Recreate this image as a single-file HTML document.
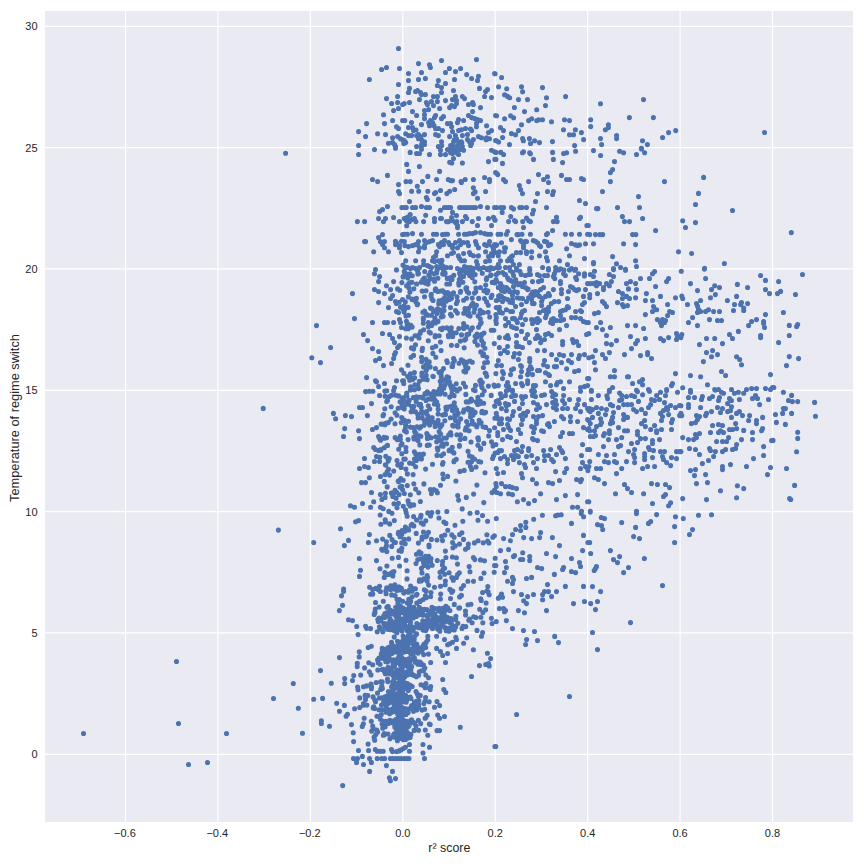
<!DOCTYPE html>
<html><head><meta charset="utf-8"><title>scatter</title>
<style>
html,body{margin:0;padding:0;background:#fff;}
body{width:864px;height:864px;overflow:hidden;font-family:"Liberation Sans",sans-serif;}
svg{display:block}
text{font-family:"Liberation Sans",sans-serif;fill:#262626}
</style></head><body>
<svg width="864" height="864" viewBox="0 0 864 864">
<rect x="0" y="0" width="864" height="864" fill="#ffffff"/>
<rect x="45" y="11" width="808" height="811" fill="#eaeaf2"/>
<g stroke="#ffffff" stroke-width="1.2" fill="none"><line x1="125.52" y1="11" x2="125.52" y2="822"/><line x1="217.94" y1="11" x2="217.94" y2="822"/><line x1="310.37" y1="11" x2="310.37" y2="822"/><line x1="402.80" y1="11" x2="402.80" y2="822"/><line x1="495.23" y1="11" x2="495.23" y2="822"/><line x1="587.66" y1="11" x2="587.66" y2="822"/><line x1="680.08" y1="11" x2="680.08" y2="822"/><line x1="772.51" y1="11" x2="772.51" y2="822"/><line x1="45" y1="754.30" x2="853" y2="754.30"/><line x1="45" y1="632.96" x2="853" y2="632.96"/><line x1="45" y1="511.63" x2="853" y2="511.63"/><line x1="45" y1="390.29" x2="853" y2="390.29"/><line x1="45" y1="268.96" x2="853" y2="268.96"/><line x1="45" y1="147.62" x2="853" y2="147.62"/><line x1="45" y1="26.29" x2="853" y2="26.29"/></g>
<path d="M83.5 733.5h0M176.5 661.5h0M178.5 723.5h0M226.5 733.5h0M188.5 764.5h0M207.5 762.5h0M273.5 698.5h0M293.3 683.5h0M298.3 708.3h0M302.5 733.3h0M285.6 153.3h0M263.2 408.4h0M278.4 530.1h0M339.5 657.6h0M320.5 670.6h0M344.7 678.6h0M344.7 683.6h0M352.5 680.5h0M331.3 683.3h0M313.7 699.2h0M322.6 698.4h0M336.7 703.3h0M344.4 705.4h0M354.6 708.7h0M339.5 711.2h0M347.5 714.3h0M346.1 716.2h0M321.4 720.7h0M321.4 723.5h0M329.5 726.3h0M351.5 724.6h0M353.2 732.7h0M353.6 741.6h0M436.6 636.3h0M444.5 639.5h0M455.8 637.4h0M456.5 639.5h0M452.5 642.3h0M449.7 643.7h0M447.6 644.7h0M466.7 637.7h0M463.6 643.3h0M481.5 636.3h0M456.5 648.4h0M436.6 648.4h0M440.5 651.5h0M442.7 655.5h0M447.6 653.6h0M473.4 649.7h0M487.4 653.3h0M490.6 658.6h0M488.5 663.5h0M485.7 664.5h0M489.2 665.9h0M479.5 665.6h0M445.5 662.5h0M430.7 662.5h0M471.5 676.5h0M442.7 679.5h0M443.8 689.6h0M445.8 692.5h0M439.6 705.6h0M434.5 707.3h0M437.7 715.0h0M439.6 718.3h0M444.5 716.5h0M460.3 727.3h0M437.0 730.6h0M439.6 730.6h0M427.8 735.2h0M429.5 747.2h0M494.9 746.5h0M313.7 542.5h0M340.5 528.7h0M355.6 521.8h0M358.6 520.6h0M344.4 545.6h0M348.5 540.4h0M369.4 534.5h0M368.4 542.5h0M376.5 540.7h0M359.3 558.5h0M376.5 560.6h0M360.5 570.3h0M359.5 576.4h0M343.6 589.1h0M343.6 591.2h0M341.5 595.7h0M342.6 605.3h0M339.4 610.6h0M348.5 619.7h0M352.5 620.6h0M356.7 626.5h0M365.6 626.2h0M366.6 628.2h0M370.6 628.6h0M372.7 589.5h0M375.8 588.4h0M379.6 586.3h0M370.6 594.3h0M380.4 591.5h0M375.5 602.5h0M496.3 518.5h0M542.4 515.3h0M533.7 519.2h0M555.6 515.7h0M557.9 515.0h0M561.2 514.7h0M581.2 513.6h0M583.6 516.7h0M571.5 523.4h0M525.8 522.3h0M520.6 525.6h0M525.8 527.4h0M515.6 529.5h0M520.6 530.5h0M512.5 534.5h0M540.6 532.6h0M503.6 538.6h0M510.4 540.7h0M523.7 537.6h0M531.6 538.6h0M539.6 537.6h0M552.4 537.6h0M583.5 535.4h0M587.9 542.5h0M559.5 545.6h0M500.5 550.6h0M508.6 549.6h0M522.7 552.7h0M514.6 555.5h0M513.5 556.6h0M529.7 556.6h0M546.5 553.5h0M555.6 556.6h0M582.6 550.6h0M571.5 558.5h0M520.6 559.5h0M522.7 559.5h0M529.7 560.6h0M505.5 561.6h0M579.5 562.6h0M495.9 565.5h0M506.4 567.5h0M537.5 567.5h0M541.7 568.6h0M563.6 567.5h0M562.6 569.5h0M580.5 566.5h0M504.5 572.6h0M571.5 571.5h0M575.6 572.6h0M554.4 574.4h0M512.5 577.4h0M513.5 579.6h0M531.6 577.4h0M526.5 578.5h0M507.6 581.3h0M512.5 583.5h0M547.5 584.6h0M565.4 586.4h0M583.5 586.4h0M513.5 591.6h0M544.5 591.6h0M548.5 591.6h0M556.5 591.6h0M501.5 594.0h0M500.5 596.2h0M502.5 597.3h0M498.3 598.3h0M521.5 594.5h0M533.5 594.5h0M527.6 596.6h0M542.6 594.5h0M551.6 596.6h0M542.6 599.7h0M523.7 600.7h0M526.5 603.6h0M584.5 601.5h0M573.5 603.6h0M499.4 608.6h0M503.6 608.6h0M505.5 610.6h0M504.5 611.7h0M518.4 610.6h0M524.5 612.7h0M546.5 610.6h0M496.3 621.6h0M506.4 620.6h0M512.5 628.6h0M523.5 630.5h0M534.5 631.5h0M590.3 512.1h0M636.5 513.6h0M656.6 514.6h0M675.5 516.7h0M601.3 517.5h0M604.5 518.5h0M621.7 522.5h0M597.5 524.6h0M601.5 525.6h0M602.7 529.5h0M635.6 527.4h0M650.7 521.5h0M648.5 523.4h0M674.6 526.6h0M633.6 536.6h0M639.5 538.6h0M589.7 542.5h0M674.6 542.5h0M610.4 550.6h0M590.7 553.5h0M619.6 556.6h0M613.5 559.6h0M617.5 562.6h0M644.4 558.5h0M596.5 566.5h0M595.5 568.6h0M594.2 570.5h0M628.5 567.5h0M623.6 572.6h0M592.5 586.6h0M600.6 591.6h0M662.5 585.6h0M597.5 601.5h0M590.7 603.6h0M595.5 609.6h0M630.5 622.6h0M592.5 632.5h0M683.3 518.5h0M698.5 515.3h0M711.5 514.7h0M692.5 529.6h0M689.5 534.5h0M526.6 639.6h0M525.6 644.5h0M537.5 640.6h0M554.7 636.4h0M558.5 642.6h0M597.5 649.6h0M569.5 696.5h0M516.6 714.5h0M495.8 746.6h0M358.5 750.5h0M368.6 750.5h0M375.3 749.5h0M377.2 751.3h0M380.3 751.3h0M383.2 751.3h0M391.5 749.5h0M392.5 751.6h0M396.6 751.6h0M399.0 750.9h0M401.1 749.9h0M403.3 748.5h0M405.4 747.3h0M409.5 744.5h0M409.5 751.3h0M429.6 747.3h0M353.5 758.5h0M357.5 758.5h0M362.4 756.4h0M369.6 758.5h0M377.2 758.5h0M381.8 758.5h0M384.6 758.5h0M390.4 758.5h0M392.5 758.5h0M395.4 758.5h0M398.3 758.5h0M401.1 758.5h0M404.0 758.5h0M406.9 758.5h0M409.0 758.5h0M424.5 758.5h0M356.5 762.4h0M363.5 764.5h0M371.4 762.4h0M386.4 765.6h0M369.6 771.4h0M392.5 771.4h0M389.4 777.8h0M390.4 780.8h0M395.5 778.6h0M342.7 785.6h0M365.6 391.6h0M369.4 391.3h0M372.9 391.3h0M379.6 395.5h0M371.5 403.6h0M359.5 407.5h0M362.5 407.5h0M333.4 413.4h0M335.6 418.7h0M345.4 415.6h0M351.5 416.6h0M367.4 415.6h0M344.7 428.6h0M343.5 436.5h0M358.6 430.7h0M359.5 438.6h0M372.5 429.5h0M376.5 427.6h0M378.6 436.5h0M379.6 438.6h0M373.7 447.5h0M375.5 449.5h0M378.6 450.6h0M380.7 449.5h0M364.5 458.5h0M376.5 456.5h0M374.5 461.5h0M379.6 461.5h0M359.5 468.5h0M364.5 466.5h0M368.4 467.5h0M369.4 477.7h0M361.5 482.6h0M365.5 482.6h0M371.5 492.5h0M380.4 494.6h0M373.7 501.7h0M362.5 503.5h0M350.5 505.7h0M354.5 507.3h0M370.6 507.3h0M380.4 507.3h0M802.5 274.5h0M778.6 281.5h0M780.6 291.4h0M777.5 293.6h0M795.5 294.5h0M783.4 312.5h0M797.7 324.5h0M796.6 326.5h0M789.3 325.4h0M789.3 335.5h0M778.6 342.5h0M789.3 356.6h0M798.6 358.6h0M786.5 365.6h0M773.8 387.5h0M783.4 392.3h0M791.6 395.4h0M788.5 400.5h0M792.4 401.6h0M797.7 401.6h0M814.6 402.4h0M783.4 408.6h0M785.4 408.6h0M775.5 414.5h0M782.6 413.4h0M791.6 413.4h0M815.5 416.2h0M776.4 422.4h0M785.4 424.4h0M797.7 432.3h0M797.7 438.4h0M773.0 440.4h0M796.6 451.7h0M786.5 468.5h0M794.6 485.4h0M789.6 498.6h0M790.7 499.5h0M375.5 269.6h0M396.5 269.9h0M374.5 273.7h0M379.6 276.5h0M378.6 281.6h0M393.6 281.6h0M401.9 282.6h0M386.5 285.7h0M374.5 289.6h0M378.6 291.5h0M390.6 289.6h0M397.6 288.9h0M399.8 290.3h0M384.5 293.6h0M352.5 293.6h0M392.6 295.6h0M390.6 298.5h0M378.6 302.6h0M395.5 301.6h0M399.1 302.3h0M396.5 303.5h0M402.6 299.5h0M388.5 307.6h0M400.5 307.3h0M396.5 311.5h0M398.6 312.5h0M354.5 318.6h0M372.5 322.5h0M384.5 322.5h0M387.5 322.5h0M393.6 322.5h0M399.5 319.6h0M400.5 322.5h0M316.5 325.6h0M401.5 327.5h0M363.5 334.5h0M382.5 333.5h0M389.6 334.5h0M399.5 336.6h0M392.6 338.5h0M367.6 340.6h0M394.5 342.6h0M399.5 345.5h0M397.6 347.5h0M330.6 347.5h0M372.5 348.6h0M378.6 351.5h0M395.5 352.6h0M394.5 354.6h0M311.8 357.7h0M393.6 358.5h0M379.6 358.5h0M375.5 360.6h0M320.5 362.6h0M391.6 363.5h0M383.5 365.6h0M401.5 369.7h0M366.6 377.6h0M375.5 380.7h0M376.5 381.7h0M396.5 380.7h0M384.5 383.5h0M402.6 380.7h0M378.6 386.6h0M394.5 387.5h0M358.6 154.5h0M374.5 149.6h0M384.5 151.3h0M395.5 148.2h0M387.5 175.4h0M372.5 179.5h0M377.6 181.6h0M398.5 184.6h0M398.5 191.5h0M399.5 193.6h0M387.5 206.5h0M382.5 209.6h0M379.6 211.6h0M401.9 207.5h0M378.6 218.5h0M385.5 218.5h0M383.5 221.6h0M393.6 217.5h0M399.5 221.6h0M357.4 221.6h0M364.6 221.6h0M382.5 234.6h0M378.6 237.5h0M402.6 234.6h0M380.4 241.6h0M384.5 241.6h0M382.5 244.6h0M384.5 247.7h0M364.6 241.6h0M365.6 241.6h0M395.5 241.3h0M396.5 242.8h0M395.5 244.6h0M399.5 245.6h0M401.5 241.3h0M399.5 247.7h0M373.7 251.7h0M388.5 251.7h0M401.5 252.6h0M593.5 150.6h0M600.6 155.5h0M619.6 151.3h0M623.6 152.7h0M641.5 148.9h0M644.6 152.7h0M636.5 154.5h0M614.5 161.6h0M612.6 169.6h0M610.4 172.6h0M610.4 181.6h0M664.5 181.6h0M602.5 191.5h0M638.5 196.6h0M596.5 208.6h0M597.9 208.6h0M617.5 207.5h0M639.5 207.5h0M622.4 216.6h0M624.5 221.6h0M629.5 221.6h0M642.6 218.5h0M588.3 225.5h0M655.6 230.5h0M589.7 234.6h0M595.5 234.6h0M599.9 234.6h0M602.7 234.6h0M632.6 234.6h0M635.8 234.6h0M593.5 243.7h0M623.6 243.7h0M635.6 244.6h0M678.5 251.7h0M612.6 256.6h0M635.6 260.7h0M593.5 262.5h0M593.5 263.7h0M616.5 263.7h0M636.5 266.5h0M613.5 268.5h0M620.6 267.5h0M625.5 269.3h0M764.5 132.5h0M703.6 177.4h0M698.5 193.4h0M695.5 204.5h0M732.5 210.5h0M682.7 220.7h0M695.5 222.6h0M685.5 227.5h0M791.3 232.6h0M691.6 253.5h0M724.4 263.5h0M704.6 268.4h0M398.5 48.5h0M381.6 69.5h0M386.5 67.5h0M399.5 68.5h0M369.4 79.5h0M398.5 84.5h0M397.6 96.5h0M386.5 98.6h0M391.6 103.5h0M397.6 102.5h0M402.6 104.5h0M398.5 108.5h0M393.6 110.6h0M383.5 114.7h0M392.6 120.5h0M402.6 120.5h0M366.6 123.6h0M384.5 123.6h0M396.5 126.7h0M398.5 128.5h0M358.6 131.6h0M377.6 133.7h0M385.5 134.6h0M365.6 136.6h0M392.6 137.7h0M397.6 136.6h0M400.5 138.7h0M402.6 139.8h0M388.5 143.3h0M392.6 142.6h0M394.5 144.5h0M395.5 146.5h0M358.6 145.5h0M495.1 73.7h0M501.6 77.5h0M498.6 86.7h0M506.7 88.7h0M521.5 86.7h0M522.6 91.7h0M542.5 87.6h0M504.6 94.7h0M507.6 96.4h0M509.7 97.7h0M518.5 99.6h0M527.5 99.6h0M546.5 97.7h0M565.6 96.6h0M545.5 105.6h0M514.4 107.5h0M536.7 109.7h0M524.5 111.6h0M496.6 115.7h0M510.6 115.7h0M513.6 117.8h0M504.6 118.7h0M528.6 120.6h0M531.6 118.7h0M536.7 120.6h0M538.6 119.7h0M542.5 119.7h0M551.5 121.7h0M564.5 119.7h0M569.5 120.6h0M521.5 124.7h0M500.5 127.6h0M503.5 130.6h0M518.5 130.6h0M511.4 133.6h0M515.5 134.7h0M502.6 137.5h0M522.6 138.6h0M523.4 140.7h0M529.4 138.6h0M534.6 140.7h0M530.5 143.5h0M539.5 142.6h0M552.5 141.6h0M509.5 144.6h0M496.6 140.7h0M498.6 142.0h0M563.5 129.8h0M575.4 129.8h0M569.5 134.7h0M573.5 134.7h0M581.4 132.6h0M583.6 139.6h0M574.6 145.6h0M600.5 103.7h0M643.5 99.6h0M590.7 119.7h0M629.4 117.6h0M653.4 117.6h0M590.7 126.6h0M608.4 124.7h0M608.4 127.6h0M605.4 129.8h0M616.6 135.6h0M616.6 138.6h0M600.5 138.6h0M601.6 144.6h0M642.5 140.7h0M647.4 144.6h0M641.4 148.2h0M662.6 137.5h0M668.6 132.6h0M675.7 130.6h0M681.3 271.3h0M704.4 269.1h0M705.6 278.5h0M760.6 275.5h0M765.5 280.4h0M690.5 283.6h0M737.4 284.4h0M714.7 285.7h0M719.5 287.5h0M747.6 287.5h0M711.5 289.6h0M697.5 290.6h0M765.5 289.6h0M769.5 293.6h0M715.4 294.6h0M681.8 296.0h0M682.7 298.5h0M736.6 296.4h0M710.5 297.7h0M727.4 300.5h0M700.6 300.5h0M696.5 303.5h0M687.5 304.5h0M697.5 306.1h0M734.5 304.5h0M741.5 302.6h0M740.6 304.5h0M747.6 303.5h0M743.7 308.0h0M743.7 310.5h0M733.5 310.5h0M698.5 309.4h0M697.5 312.5h0M700.6 311.5h0M705.6 311.5h0M708.5 309.7h0M713.6 311.5h0M719.5 311.5h0M765.5 314.6h0M692.6 317.6h0M709.5 319.6h0M717.5 320.5h0M721.5 320.5h0M756.5 319.6h0M751.6 321.5h0M763.6 321.5h0M763.6 323.5h0M688.5 322.5h0M697.5 325.6h0M748.6 325.6h0M764.5 327.5h0M738.4 331.4h0M681.8 334.5h0M680.9 337.6h0M729.5 334.5h0M732.5 338.5h0M760.6 335.5h0M760.6 337.6h0M706.5 338.5h0M714.7 338.5h0M722.5 343.6h0M699.5 344.6h0M712.6 350.6h0M706.5 352.6h0M717.5 354.6h0M711.5 356.7h0M736.6 356.7h0M739.7 359.5h0M703.4 361.6h0M741.5 364.7h0M721.5 371.5h0M725.6 375.5h0M690.5 375.5h0M700.6 376.7h0M770.5 374.6h0M707.5 384.7h0M682.7 387.8h0M690.5 390.3h0M714.7 389.5h0M718.5 389.5h0M731.5 389.5h0M746.5 389.5h0M751.6 388.5h0M756.5 388.5h0M765.5 388.5h0M770.5 389.5h0M772.6 387.5h0M594.5 271.3h0M590.3 274.5h0M593.5 276.5h0M613.5 269.6h0M625.5 270.3h0M609.4 274.5h0M613.5 276.5h0M654.6 271.6h0M652.5 273.7h0M640.5 278.5h0M649.5 278.5h0M668.6 278.5h0M666.6 281.6h0M590.3 283.6h0M593.5 283.6h0M596.5 282.6h0M599.6 283.6h0M596.5 285.7h0M606.5 283.6h0M611.4 281.6h0M609.4 285.7h0M603.5 287.5h0M603.5 289.6h0M626.5 283.6h0M630.5 281.6h0M635.6 283.6h0M628.5 288.9h0M636.5 289.6h0M655.6 286.5h0M618.5 291.5h0M622.4 293.6h0M597.5 293.6h0M589.7 294.6h0M589.7 297.7h0M646.4 293.6h0M660.5 296.4h0M675.5 297.7h0M626.5 296.4h0M629.5 298.5h0M622.4 298.5h0M635.6 297.7h0M645.4 300.5h0M652.5 300.5h0M602.5 301.6h0M617.5 302.6h0M604.5 303.5h0M606.5 306.6h0M622.4 304.5h0M623.6 306.6h0M627.5 305.6h0M667.6 304.5h0M653.5 306.6h0M656.6 309.7h0M652.5 311.5h0M669.6 311.5h0M672.5 312.5h0M645.4 314.6h0M667.6 315.5h0M594.5 313.6h0M598.4 312.5h0M657.4 319.6h0M662.5 319.6h0M665.5 320.5h0M660.5 322.5h0M664.5 322.5h0M661.5 325.6h0M588.3 322.5h0M600.6 322.5h0M596.5 327.5h0M610.4 327.5h0M602.5 329.6h0M627.5 325.6h0M635.6 325.6h0M643.6 328.5h0M588.8 333.5h0M606.5 335.5h0M630.5 336.6h0M645.4 338.5h0M660.5 338.5h0M663.5 340.6h0M668.6 337.6h0M676.5 333.5h0M677.5 336.6h0M676.5 339.5h0M616.5 340.6h0M637.5 340.6h0M635.6 343.6h0M606.5 343.6h0M611.4 344.6h0M631.5 348.6h0M595.5 350.6h0M609.4 352.6h0M602.5 354.6h0M624.5 354.6h0M640.5 355.6h0M647.6 352.6h0M647.6 354.6h0M651.5 358.5h0M592.5 356.7h0M588.8 357.7h0M605.5 358.5h0M594.5 362.6h0M595.5 369.7h0M614.5 370.5h0M610.4 376.7h0M614.5 376.7h0M627.5 376.7h0M628.5 376.7h0M588.8 378.6h0M675.5 373.6h0M642.6 379.6h0M639.5 381.7h0M642.6 384.7h0M632.6 383.5h0M672.5 383.5h0M671.5 385.6h0M612.6 387.5h0M609.4 390.3h0M591.4 390.3h0M636.5 390.3h0M648.5 389.5h0M666.6 389.5h0M690.5 392.3h0M715.4 390.1h0M721.5 392.3h0M723.5 393.3h0M734.5 393.3h0M738.4 392.3h0M743.7 393.3h0M755.5 395.5h0M688.5 397.5h0M694.5 397.5h0M702.4 396.5h0M701.5 399.5h0M709.5 398.5h0M712.6 396.5h0M719.5 397.5h0M718.5 400.5h0M729.5 398.5h0M731.5 400.5h0M739.4 399.5h0M752.5 398.5h0M757.5 398.5h0M768.5 399.5h0M680.9 405.7h0M688.5 404.6h0M688.5 407.5h0M727.6 403.6h0M731.5 406.7h0M700.6 407.5h0M717.5 407.5h0M722.5 408.5h0M759.6 404.6h0M680.9 413.4h0M681.8 415.6h0M696.5 415.6h0M699.5 416.6h0M706.5 413.4h0M705.6 415.6h0M711.5 411.6h0M720.5 412.5h0M727.6 411.6h0M730.5 410.6h0M736.6 413.4h0M739.4 411.6h0M742.5 415.6h0M749.6 415.6h0M731.5 417.4h0M697.5 419.5h0M695.5 422.6h0M691.4 423.6h0M748.6 420.5h0M756.5 420.5h0M756.5 423.6h0M762.6 417.4h0M712.6 425.5h0M718.5 424.5h0M722.5 425.5h0M735.6 423.6h0M729.5 429.5h0M732.5 429.5h0M736.6 428.6h0M743.7 430.4h0M762.6 428.6h0M761.6 430.7h0M710.5 432.5h0M718.5 432.5h0M720.5 430.7h0M723.5 432.5h0M752.5 432.5h0M699.5 433.5h0M695.5 434.6h0M696.5 437.6h0M693.6 439.6h0M688.5 439.6h0M682.7 437.6h0M728.6 437.6h0M716.6 441.5h0M722.5 441.5h0M726.6 441.5h0M741.5 439.6h0M752.5 439.6h0M771.6 440.6h0M736.6 444.5h0M735.6 448.5h0M732.5 449.5h0M763.6 446.6h0M689.5 448.5h0M695.5 449.5h0M709.5 448.5h0M710.5 450.6h0M715.4 451.6h0M722.5 451.6h0M725.6 449.5h0M680.9 451.6h0M699.5 454.5h0M713.6 456.5h0M708.5 460.5h0M763.6 455.5h0M753.5 458.6h0M702.4 463.6h0M730.5 464.6h0M722.5 466.5h0M722.5 469.6h0M746.5 466.5h0M770.5 467.5h0M690.5 470.6h0M695.5 469.6h0M694.5 475.6h0M705.6 474.6h0M767.5 474.6h0M696.5 483.6h0M707.5 482.6h0M737.4 485.7h0M743.7 488.6h0M720.5 490.7h0M682.7 498.6h0M706.5 499.6h0M736.6 497.7h0M591.4 391.3h0M609.4 391.6h0M606.9 395.8h0M598.4 395.5h0M591.4 399.5h0M607.6 398.6h0M619.6 393.0h0M621.7 395.5h0M626.5 396.5h0M631.5 395.5h0M634.6 396.5h0M619.6 400.5h0M621.7 399.5h0M638.5 401.4h0M637.5 391.6h0M642.6 394.7h0M649.5 391.3h0M656.6 395.5h0M660.5 392.3h0M665.5 395.5h0M677.5 392.3h0M666.6 390.6h0M651.5 399.5h0M654.6 400.5h0M659.5 399.5h0M664.5 402.6h0M623.6 404.6h0M627.5 404.6h0M631.5 404.6h0M610.4 404.6h0M612.6 405.7h0M596.5 407.5h0M601.5 408.5h0M606.5 409.5h0M618.5 407.5h0M589.7 408.5h0M592.5 409.5h0M588.8 410.6h0M590.3 411.6h0M650.7 404.6h0M648.5 407.5h0M670.6 405.5h0M675.5 407.5h0M679.6 405.5h0M666.6 407.5h0M667.6 409.5h0M663.5 410.6h0M660.5 413.4h0M668.6 414.6h0M633.6 409.5h0M636.5 411.6h0M641.5 409.5h0M645.4 413.4h0M613.5 412.5h0M598.4 413.4h0M605.5 414.6h0M623.6 414.6h0M624.5 416.6h0M627.5 417.4h0M623.6 419.5h0M592.5 417.4h0M600.6 418.7h0M612.6 417.4h0M611.6 420.5h0M588.8 420.5h0M590.3 423.6h0M601.5 422.6h0M600.6 424.5h0M612.6 422.6h0M610.4 423.6h0M672.5 419.5h0M671.5 422.6h0M662.5 416.6h0M661.5 420.5h0M679.6 415.6h0M644.6 420.5h0M641.5 423.6h0M645.4 426.6h0M654.6 425.5h0M596.5 426.6h0M618.5 427.6h0M588.8 428.6h0M589.7 430.7h0M594.5 430.7h0M609.4 430.7h0M609.4 433.5h0M624.5 430.7h0M627.5 430.7h0M637.5 431.5h0M637.5 434.6h0M650.7 429.5h0M656.6 430.7h0M656.6 432.5h0M661.5 429.5h0M671.5 429.5h0M604.5 433.5h0M603.5 435.6h0M590.3 436.5h0M593.5 436.5h0M595.5 435.6h0M621.7 437.6h0M616.5 439.6h0M608.5 439.6h0M640.5 438.6h0M645.4 438.6h0M637.5 442.5h0M652.5 440.6h0M652.5 443.5h0M659.5 439.6h0M631.5 443.5h0M620.6 445.5h0M618.5 446.6h0M603.5 446.6h0M648.5 447.5h0M649.5 449.5h0M653.5 450.6h0M589.7 449.5h0M628.5 451.6h0M634.6 449.5h0M660.5 451.6h0M664.5 451.6h0M676.5 451.6h0M679.6 451.6h0M598.4 454.5h0M606.5 455.5h0M614.5 454.5h0M633.6 454.5h0M634.6 457.6h0M644.6 453.6h0M644.6 456.5h0M644.6 459.5h0M652.5 457.6h0M662.5 456.5h0M663.5 459.5h0M666.6 462.6h0M671.5 457.6h0M676.5 458.6h0M670.6 465.6h0M589.7 461.6h0M604.5 461.6h0M608.5 462.6h0M614.5 461.6h0M616.5 462.6h0M626.5 461.6h0M634.6 462.6h0M588.8 466.5h0M587.9 470.6h0M596.5 468.5h0M600.6 468.5h0M621.7 468.5h0M642.6 468.5h0M647.6 466.5h0M654.6 466.5h0M616.5 473.6h0M594.5 477.7h0M598.4 479.5h0M604.5 483.6h0M624.5 484.5h0M627.5 488.6h0M631.5 492.5h0M615.5 493.7h0M643.6 493.7h0M651.5 483.6h0M657.4 484.5h0M665.5 484.5h0M669.6 487.6h0M665.5 494.6h0M663.5 496.5h0M588.8 501.7h0M652.5 503.5h0M670.6 502.7h0M668.6 505.7h0M590.3 511.3h0M636.5 511.3h0M495.9 152.4h0M500.8 152.4h0M503.6 154.5h0M495.9 159.4h0M502.5 163.4h0M523.5 151.7h0M522.5 152.7h0M529.7 152.7h0M530.4 153.8h0M533.5 159.4h0M552.6 152.4h0M553.4 159.4h0M563.6 153.5h0M566.6 152.7h0M562.6 162.6h0M575.6 151.3h0M496.8 173.6h0M497.7 174.6h0M538.5 174.6h0M503.5 179.5h0M505.5 181.6h0M528.6 181.6h0M543.6 179.5h0M547.5 176.7h0M548.5 182.5h0M561.5 175.4h0M566.6 179.5h0M569.5 179.5h0M581.5 178.5h0M583.5 179.5h0M519.4 185.6h0M520.6 189.5h0M522.5 193.6h0M537.5 193.6h0M547.5 191.5h0M553.4 191.5h0M552.6 194.5h0M535.5 201.5h0M579.5 200.5h0M585.5 203.5h0M496.6 207.5h0M500.8 207.5h0M503.6 207.5h0M511.4 207.5h0M513.5 208.9h0M519.8 207.5h0M522.0 207.5h0M526.5 207.5h0M546.5 207.5h0M502.2 212.4h0M533.5 210.3h0M532.5 213.8h0M510.7 216.6h0M495.1 220.2h0M508.6 221.6h0M514.5 220.6h0M515.6 221.6h0M522.7 221.6h0M526.5 218.0h0M528.6 220.6h0M530.4 221.6h0M556.5 217.3h0M553.4 221.6h0M557.2 221.6h0M580.5 217.3h0M579.5 218.5h0M586.9 225.5h0M523.5 227.5h0M552.6 230.5h0M507.6 231.5h0M498.0 234.3h0M500.8 234.3h0M506.4 234.3h0M517.0 234.6h0M518.4 234.6h0M522.0 234.3h0M530.4 234.3h0M546.5 234.6h0M547.5 233.6h0M565.4 234.3h0M571.5 234.3h0M579.5 234.3h0M587.6 234.3h0M511.4 239.6h0M520.6 240.6h0M521.5 241.6h0M525.5 241.3h0M526.5 241.6h0M533.3 240.6h0M535.5 241.3h0M537.5 242.8h0M544.5 241.3h0M546.7 242.1h0M548.5 245.6h0M550.6 244.6h0M501.5 242.8h0M496.6 244.9h0M495.9 245.6h0M571.5 243.5h0M575.6 244.9h0M577.6 245.6h0M579.5 244.9h0M585.5 243.7h0M539.5 245.6h0M540.6 246.6h0M523.5 245.6h0M523.5 247.7h0M504.5 247.7h0M505.5 247.7h0M566.6 248.7h0M545.5 251.7h0M516.5 252.6h0M520.6 252.6h0M526.5 251.7h0M526.5 253.6h0M531.6 251.7h0M504.5 251.7h0M499.4 251.7h0M495.9 252.6h0M498.3 255.7h0M569.5 255.7h0M584.5 258.6h0M539.5 255.7h0M531.6 257.6h0M546.5 257.6h0M547.5 260.7h0M559.5 260.7h0M511.5 256.6h0M512.5 255.7h0M509.5 258.6h0M507.6 260.7h0M511.5 260.7h0M500.5 260.7h0M519.4 264.6h0M513.5 264.6h0M498.3 264.6h0M496.8 267.5h0M499.4 267.5h0M505.5 267.5h0M509.5 267.5h0M516.5 268.5h0M529.7 268.5h0M542.6 267.5h0M548.5 268.5h0M555.6 267.5h0M560.5 268.9h0M567.5 264.6h0M571.5 268.5h0M575.6 269.3h0M506.4 390.9h0M512.5 391.6h0M513.5 395.5h0M511.5 396.5h0M515.6 395.5h0M531.6 390.9h0M534.5 391.6h0M532.5 395.5h0M535.5 396.5h0M525.5 396.5h0M521.5 396.5h0M522.5 398.5h0M541.6 395.5h0M544.5 394.7h0M551.6 391.6h0M553.4 393.7h0M552.6 396.5h0M555.6 394.7h0M563.6 395.5h0M580.5 391.3h0M500.5 393.7h0M505.5 395.5h0M501.5 397.5h0M498.3 400.5h0M499.4 403.6h0M496.3 401.4h0M505.5 403.6h0M508.6 404.6h0M506.4 405.7h0M514.5 401.4h0M522.5 403.6h0M533.5 402.6h0M537.5 404.6h0M539.5 407.5h0M536.5 409.5h0M546.5 404.6h0M552.6 402.6h0M556.5 404.6h0M555.6 400.5h0M553.4 407.5h0M556.5 409.5h0M562.6 400.5h0M564.6 403.6h0M569.5 399.5h0M578.6 399.5h0M577.6 404.6h0M584.5 404.6h0M562.6 408.5h0M567.5 408.5h0M575.6 408.5h0M580.5 411.6h0M587.6 408.5h0M501.5 408.5h0M506.4 410.6h0M519.4 408.5h0M513.5 411.6h0M527.6 411.6h0M512.5 415.6h0M496.3 413.4h0M496.8 416.6h0M498.3 418.7h0M501.5 418.7h0M507.6 418.7h0M509.5 419.5h0M520.6 415.6h0M523.5 413.4h0M525.5 415.6h0M522.5 419.5h0M521.5 424.5h0M533.5 416.6h0M538.5 416.6h0M542.6 415.6h0M536.5 420.5h0M536.5 423.6h0M531.6 426.6h0M533.5 427.6h0M534.5 428.6h0M533.5 432.5h0M561.5 416.6h0M563.6 418.7h0M570.5 416.6h0M570.5 421.5h0M577.6 421.5h0M554.4 421.5h0M548.5 423.6h0M547.5 424.5h0M549.5 426.6h0M499.4 423.6h0M501.5 423.6h0M507.6 424.5h0M508.6 427.6h0M510.5 430.4h0M503.5 429.5h0M497.7 432.5h0M497.7 435.6h0M518.4 429.5h0M520.6 433.5h0M541.6 430.7h0M543.6 431.5h0M562.6 432.5h0M560.5 436.5h0M569.5 433.5h0M572.5 433.5h0M583.5 427.6h0M587.6 429.5h0M587.6 419.5h0M507.6 436.5h0M510.5 437.6h0M502.5 439.6h0M516.5 441.5h0M532.5 438.6h0M533.5 439.6h0M537.5 440.6h0M495.9 444.5h0M522.5 446.6h0M528.6 448.5h0M528.6 450.6h0M517.4 449.5h0M514.5 450.6h0M521.5 451.6h0M499.4 450.6h0M501.5 450.6h0M497.7 452.4h0M504.5 456.5h0M500.5 458.6h0M507.6 459.5h0M511.5 455.5h0M513.5 455.5h0M516.5 455.5h0M514.5 457.6h0M518.4 456.5h0M513.5 459.5h0M531.6 455.5h0M526.5 456.5h0M537.5 458.6h0M533.5 462.6h0M543.6 450.6h0M550.6 449.5h0M544.5 455.5h0M548.5 455.5h0M544.5 460.5h0M551.6 459.5h0M553.4 461.6h0M556.5 454.5h0M559.5 447.5h0M561.5 450.6h0M562.6 452.4h0M565.4 458.6h0M582.6 444.5h0M587.6 449.5h0M581.5 455.5h0M582.5 462.6h0M585.5 466.5h0M580.5 468.5h0M587.6 468.5h0M519.4 462.6h0M524.5 464.6h0M525.5 467.5h0M507.6 463.6h0M496.3 468.5h0M503.5 472.5h0M497.7 473.6h0M521.5 473.6h0M522.5 477.7h0M536.5 468.5h0M555.6 471.6h0M566.6 468.5h0M564.6 472.5h0M532.5 479.5h0M536.5 483.6h0M548.5 482.6h0M552.6 483.6h0M559.5 480.5h0M576.6 479.5h0M581.5 479.5h0M580.5 481.6h0M495.9 483.6h0M496.3 486.6h0M501.5 483.6h0M505.5 486.6h0M509.5 486.6h0M512.5 487.6h0M516.5 488.6h0M496.8 492.5h0M500.5 493.7h0M508.6 493.7h0M512.5 494.6h0M540.6 493.7h0M565.4 495.6h0M577.6 494.6h0M556.5 499.6h0M587.6 501.7h0M517.4 501.7h0M523.5 499.6h0M528.6 503.5h0M534.5 500.6h0M572.5 507.3h0M577.6 507.3h0M581.5 511.3h0M496.3 274.5h0M498.3 272.7h0M504.5 274.5h0M505.5 274.5h0M512.5 272.3h0M513.5 275.5h0M516.5 269.9h0M529.7 269.9h0M525.5 275.5h0M528.6 274.5h0M530.4 274.5h0M537.5 274.5h0M539.5 275.5h0M544.5 275.5h0M547.5 275.5h0M548.5 269.9h0M555.6 270.6h0M554.4 273.7h0M553.4 276.5h0M558.7 269.9h0M563.6 273.7h0M565.4 275.5h0M569.5 269.9h0M574.6 270.3h0M578.6 273.7h0M584.5 273.7h0M575.6 277.5h0M500.5 283.6h0M508.6 279.5h0M510.5 280.4h0M512.5 281.6h0M515.6 279.5h0M516.5 282.6h0M518.4 284.7h0M520.6 283.6h0M524.5 282.6h0M532.5 281.6h0M538.5 281.6h0M541.6 280.4h0M522.5 286.5h0M525.5 287.5h0M527.6 289.6h0M513.5 286.5h0M506.4 287.5h0M502.5 286.5h0M501.5 290.6h0M504.5 291.5h0M508.6 289.6h0M509.5 291.5h0M511.5 292.4h0M514.5 291.5h0M517.4 292.4h0M498.3 287.5h0M543.6 287.5h0M540.6 289.6h0M535.5 291.5h0M532.5 292.4h0M537.5 292.4h0M560.5 281.6h0M560.5 283.6h0M553.4 289.6h0M561.5 289.6h0M561.5 293.6h0M568.5 291.5h0M570.5 286.5h0M572.5 287.5h0M574.6 289.6h0M576.6 290.6h0M578.6 289.6h0M576.6 279.5h0M585.5 289.6h0M587.6 283.6h0M499.4 295.6h0M501.5 296.4h0M504.5 298.5h0M507.6 299.5h0M498.3 299.5h0M496.3 300.5h0M502.5 301.6h0M512.5 295.6h0M512.5 299.5h0M512.5 302.6h0M517.4 297.7h0M522.5 298.5h0M526.5 301.6h0M531.6 299.5h0M532.5 303.5h0M528.6 297.7h0M533.5 295.6h0M536.5 294.6h0M539.5 296.4h0M542.6 298.5h0M545.5 296.4h0M548.5 293.6h0M549.5 295.6h0M541.6 301.6h0M541.6 305.6h0M515.6 306.6h0M521.5 304.5h0M567.5 298.5h0M583.5 296.4h0M584.5 302.6h0M582.5 304.5h0M551.3 303.5h0M554.4 301.6h0M558.7 301.6h0M567.5 306.6h0M568.5 307.6h0M496.3 307.6h0M499.4 310.5h0M500.5 312.5h0M506.4 309.7h0M510.5 311.5h0M512.5 311.5h0M522.5 311.5h0M524.5 310.5h0M521.5 313.6h0M539.5 312.5h0M543.6 310.5h0M545.5 309.7h0M548.5 311.5h0M546.5 314.6h0M545.5 317.6h0M560.5 311.5h0M562.6 310.5h0M565.4 309.7h0M560.5 315.5h0M575.6 311.5h0M580.5 310.5h0M581.5 311.5h0M495.9 314.6h0M496.3 317.6h0M505.5 318.6h0M508.6 322.5h0M505.5 325.6h0M512.5 318.6h0M514.5 318.6h0M516.5 320.5h0M517.4 322.5h0M520.6 317.6h0M525.5 319.6h0M522.5 324.5h0M531.6 319.6h0M533.5 320.5h0M535.5 319.6h0M537.5 318.6h0M539.5 320.5h0M532.5 323.5h0M537.5 322.5h0M551.6 319.6h0M553.4 318.6h0M550.6 322.5h0M552.6 323.5h0M556.5 320.5h0M560.5 320.5h0M563.6 319.6h0M571.5 317.6h0M575.6 317.6h0M580.5 318.6h0M583.5 321.5h0M586.6 322.5h0M566.6 325.6h0M559.5 329.6h0M511.5 326.5h0M513.5 327.5h0M516.5 328.5h0M521.5 331.4h0M536.5 329.6h0M495.9 320.5h0M496.3 323.5h0M499.4 337.6h0M505.5 337.6h0M507.6 335.5h0M508.6 338.5h0M516.5 335.5h0M527.6 334.5h0M525.5 338.5h0M529.4 342.6h0M535.5 338.5h0M537.5 335.5h0M539.5 337.6h0M541.6 340.6h0M540.6 342.6h0M544.5 339.5h0M545.5 334.5h0M548.5 333.5h0M551.6 335.5h0M586.6 334.5h0M562.6 341.6h0M562.6 344.6h0M572.5 339.5h0M573.5 342.6h0M576.6 341.6h0M578.6 345.5h0M516.5 342.6h0M516.5 346.5h0M519.4 346.5h0M522.5 347.5h0M507.6 346.5h0M499.4 347.5h0M504.5 350.6h0M507.6 352.6h0M500.5 353.6h0M537.5 350.6h0M544.5 350.6h0M514.5 353.6h0M513.5 356.7h0M519.4 353.6h0M551.6 354.6h0M559.5 354.6h0M563.6 355.6h0M571.5 354.6h0M579.5 355.6h0M584.5 354.6h0M578.6 358.5h0M556.5 359.5h0M568.5 360.6h0M571.5 362.6h0M561.5 362.6h0M518.4 359.5h0M520.6 365.6h0M521.5 366.6h0M529.7 358.5h0M529.7 361.6h0M544.5 360.6h0M543.6 364.7h0M547.5 366.6h0M498.3 360.6h0M496.8 365.6h0M501.5 365.6h0M554.4 366.6h0M556.5 366.6h0M566.6 368.7h0M530.4 366.6h0M531.6 368.7h0M528.6 369.7h0M537.5 370.5h0M539.5 370.5h0M513.5 368.7h0M511.5 369.7h0M510.5 374.6h0M521.5 371.5h0M520.6 376.7h0M528.6 372.7h0M527.6 374.6h0M532.5 374.6h0M502.5 371.5h0M503.5 373.6h0M495.9 373.6h0M502.5 378.6h0M545.5 372.7h0M548.5 374.6h0M549.5 375.5h0M574.6 371.5h0M578.6 370.5h0M587.6 378.6h0M545.5 381.7h0M560.5 381.7h0M557.5 382.5h0M569.5 381.7h0M498.3 385.6h0M507.6 382.5h0M506.4 385.6h0M508.6 386.6h0M515.6 383.5h0M521.5 383.5h0M522.5 385.6h0M527.6 380.7h0M527.6 383.5h0M533.5 385.6h0M535.5 385.6h0M533.5 387.5h0M550.6 385.6h0M556.5 384.7h0M563.6 388.5h0M580.5 387.5h0M584.5 386.6h0M587.6 385.6h0M509.5 389.5h0M512.5 390.3h0M502.7 272.6h0M510.3 270.7h0M507.6 277.8h0M496.6 281.3h0M496.1 279.5h0M519.9 271.2h0M528.1 289.0h0M521.2 274.4h0M532.8 292.0h0M554.8 278.6h0M564.0 270.1h0M584.4 276.0h0M498.6 296.1h0M502.4 313.0h0M499.4 307.3h0M510.0 302.3h0M531.0 294.8h0M519.7 298.2h0M534.1 303.6h0M548.7 307.4h0M441.5 60.5h0M476.5 59.6h0M418.5 63.6h0M429.5 64.7h0M430.4 67.5h0M449.4 68.5h0M460.6 68.5h0M421.5 72.5h0M408.5 73.5h0M445.5 72.5h0M455.5 71.6h0M494.6 73.5h0M466.7 74.6h0M478.5 76.3h0M408.5 80.5h0M418.5 79.5h0M425.4 78.5h0M438.4 80.5h0M454.5 79.5h0M471.6 78.5h0M477.5 80.5h0M445.5 83.5h0M437.4 85.5h0M441.5 87.6h0M409.5 88.4h0M408.5 92.5h0M441.5 92.5h0M453.5 90.5h0M479.5 88.4h0M487.5 89.6h0M485.6 91.5h0M415.6 91.5h0M417.5 90.5h0M420.5 92.5h0M421.5 94.6h0M425.4 94.6h0M433.5 96.5h0M437.4 96.5h0M419.5 99.6h0M455.5 96.5h0M462.4 96.5h0M464.5 98.6h0M484.6 96.5h0M491.5 97.6h0M404.3 103.5h0M409.5 102.5h0M426.4 102.5h0M427.4 104.5h0M431.5 101.6h0M437.4 101.6h0M445.5 100.6h0M452.5 99.6h0M456.5 100.6h0M456.5 103.5h0M433.5 105.6h0M439.6 108.5h0M451.6 105.6h0M454.5 106.6h0M449.6 107.6h0M468.5 104.5h0M472.6 102.5h0M473.4 104.5h0M480.5 107.6h0M412.5 111.6h0M416.6 115.5h0M424.5 110.6h0M428.6 109.6h0M424.5 114.7h0M424.5 118.6h0M435.6 115.5h0M434.5 117.6h0M443.5 116.5h0M441.5 118.6h0M472.6 111.6h0M468.5 115.5h0M471.6 117.6h0M474.6 118.6h0M477.5 119.6h0M480.5 120.5h0M495.6 115.5h0M458.6 119.6h0M463.6 120.5h0M457.5 122.6h0M404.8 120.5h0M411.5 122.6h0M421.5 124.6h0M428.6 122.6h0M430.5 120.5h0M432.5 122.6h0M429.5 125.7h0M408.5 127.5h0M412.5 127.5h0M413.5 130.6h0M447.5 123.6h0M450.6 123.6h0M451.6 126.7h0M476.5 123.6h0M476.5 126.7h0M486.6 125.7h0M435.6 128.5h0M438.4 128.5h0M442.5 130.6h0M452.5 131.6h0M458.6 130.6h0M461.4 129.7h0M465.5 128.5h0M471.6 130.6h0M491.5 130.6h0M488.5 132.5h0M405.7 133.7h0M408.5 135.6h0M411.5 135.6h0M416.6 135.6h0M418.5 134.6h0M420.5 136.6h0M424.5 134.6h0M435.6 134.6h0M438.4 135.6h0M449.6 136.6h0M455.5 135.6h0M456.5 138.7h0M462.4 135.6h0M467.5 134.6h0M478.5 136.6h0M481.5 137.7h0M486.6 137.7h0M489.5 138.7h0M495.6 140.5h0M418.5 138.7h0M421.5 139.5h0M424.5 141.7h0M404.3 140.5h0M405.7 142.6h0M467.5 139.5h0M469.5 141.7h0M473.4 139.5h0M471.6 143.6h0M454.5 139.5h0M458.6 141.7h0M461.4 141.7h0M441.5 141.7h0M416.6 146.5h0M421.5 146.5h0M424.5 144.5h0M438.4 146.5h0M450.6 145.5h0M453.5 146.5h0M457.5 145.5h0M462.4 146.5h0M470.6 145.5h0M410.2 152.4h0M416.6 153.5h0M419.5 153.5h0M429.5 154.5h0M421.5 149.3h0M440.5 150.3h0M440.5 154.5h0M445.5 154.5h0M447.5 149.6h0M451.6 149.6h0M453.5 151.7h0M455.5 150.3h0M457.5 153.5h0M458.6 154.5h0M452.5 153.5h0M450.6 152.7h0M459.6 149.6h0M463.6 150.3h0M453.5 158.5h0M491.5 150.3h0M494.6 151.7h0M406.7 164.4h0M419.4 166.5h0M449.7 162.3h0M451.8 163.0h0M462.4 163.0h0M408.5 171.4h0M439.6 171.4h0M488.5 161.6h0M494.9 159.4h0M495.6 172.6h0M427.8 176.4h0M436.6 179.5h0M406.0 181.6h0M410.2 181.6h0M422.5 181.6h0M417.3 186.3h0M411.6 191.2h0M418.7 191.2h0M427.8 191.2h0M435.6 192.6h0M434.5 193.6h0M440.5 190.5h0M426.4 197.6h0M427.4 199.5h0M438.4 199.0h0M409.5 201.5h0M448.3 179.5h0M450.6 180.6h0M452.5 180.6h0M461.0 181.6h0M461.4 182.5h0M465.2 179.5h0M454.7 189.5h0M449.7 191.2h0M446.9 193.6h0M473.4 179.5h0M473.4 187.7h0M475.1 191.9h0M473.4 193.6h0M477.5 198.3h0M484.6 177.5h0M489.5 179.5h0M489.5 181.6h0M485.6 191.5h0M404.3 207.5h0M406.3 207.5h0M412.5 207.5h0M415.6 207.5h0M421.5 206.5h0M426.4 207.5h0M429.5 207.5h0M444.5 207.5h0M446.5 207.5h0M448.6 207.5h0M450.6 207.5h0M459.6 207.5h0M461.4 207.5h0M464.5 207.5h0M467.5 207.5h0M470.6 207.5h0M473.4 207.5h0M475.5 207.5h0M480.5 206.5h0M487.5 207.5h0M494.6 207.5h0M440.5 210.3h0M452.5 212.4h0M456.5 215.6h0M410.2 214.5h0M425.7 215.2h0M407.4 217.3h0M404.3 218.5h0M406.3 220.6h0M409.5 221.6h0M411.6 219.5h0M414.4 218.5h0M415.9 221.6h0M423.6 221.6h0M406.7 225.8h0M434.5 218.5h0M434.5 221.6h0M440.5 218.5h0M441.5 218.5h0M446.5 221.6h0M448.6 221.6h0M451.6 217.5h0M452.5 220.6h0M456.8 221.6h0M455.5 222.6h0M457.5 225.5h0M457.5 227.6h0M462.4 221.6h0M465.5 216.6h0M466.7 218.5h0M472.3 221.6h0M477.5 225.5h0M478.5 218.5h0M488.5 218.5h0M493.5 217.3h0M494.6 219.5h0M491.5 225.5h0M404.3 234.3h0M407.4 234.3h0M412.5 233.6h0M421.5 234.3h0M433.5 234.3h0M436.6 234.3h0M442.5 234.6h0M445.5 234.3h0M447.5 234.3h0M458.6 234.3h0M464.5 234.3h0M466.7 234.3h0M469.5 233.6h0M472.6 233.6h0M475.5 232.6h0M480.5 232.6h0M484.6 233.6h0M487.5 234.3h0M490.6 234.3h0M404.3 241.6h0M404.8 245.6h0M408.5 246.6h0M412.5 245.6h0M415.6 244.6h0M418.5 241.6h0M417.5 244.6h0M419.5 247.7h0M418.5 251.7h0M424.5 240.6h0M426.4 242.5h0M424.5 245.6h0M424.5 247.7h0M429.5 241.6h0M432.5 240.6h0M438.4 244.6h0M439.6 246.6h0M441.5 242.5h0M444.5 240.6h0M443.5 244.6h0M448.6 242.5h0M449.6 244.6h0M452.5 245.6h0M452.5 247.7h0M455.5 242.5h0M459.6 240.6h0M460.6 244.6h0M457.5 247.7h0M463.6 242.5h0M467.5 242.5h0M468.5 245.6h0M475.5 241.6h0M476.5 244.6h0M478.5 247.7h0M484.6 244.6h0M486.6 245.6h0M489.5 241.6h0M488.5 244.6h0M492.5 246.6h0M493.5 249.5h0M494.6 244.6h0M436.6 251.7h0M435.6 255.7h0M433.5 257.6h0M432.5 260.7h0M434.5 261.5h0M438.4 260.7h0M440.5 262.5h0M441.5 264.6h0M447.5 255.7h0M451.6 253.6h0M453.5 252.6h0M463.6 253.6h0M469.5 252.6h0M470.6 254.5h0M473.4 255.7h0M478.5 255.7h0M485.6 251.7h0M491.5 253.6h0M492.5 255.7h0M488.5 256.6h0M405.7 260.7h0M415.6 260.7h0M423.6 260.7h0M423.6 264.6h0M459.6 258.6h0M461.4 260.7h0M464.5 260.7h0M476.5 261.5h0M485.6 261.5h0M489.5 260.7h0M404.3 266.5h0M407.4 267.5h0M410.5 268.5h0M412.5 267.5h0M415.6 268.5h0M419.5 267.5h0M427.4 265.6h0M429.5 266.5h0M431.5 267.5h0M436.6 266.5h0M439.6 267.5h0M443.5 266.5h0M446.5 267.5h0M450.6 267.5h0M457.5 268.5h0M464.5 266.5h0M467.5 267.5h0M470.6 267.5h0M473.4 268.5h0M477.5 267.5h0M480.5 268.5h0M483.6 267.5h0M487.5 268.5h0M490.6 267.5h0M493.5 268.5h0M413.3 397.6h0M421.2 407.3h0M408.4 404.2h0M414.9 411.5h0M419.7 397.3h0M425.4 393.2h0M412.5 408.7h0M406.3 402.2h0M403.7 406.5h0M420.5 404.2h0M423.0 397.9h0M418.9 404.7h0M416.2 401.4h0M422.2 413.2h0M413.8 406.4h0M404.2 407.3h0M417.8 414.4h0M421.8 397.2h0M411.7 406.5h0M403.3 401.5h0M406.7 393.1h0M404.2 408.9h0M405.8 396.3h0M411.8 411.4h0M404.7 401.2h0M415.5 411.7h0M421.7 411.3h0M409.2 400.4h0M411.1 411.8h0M424.9 394.0h0M406.9 395.9h0M408.2 402.1h0M416.4 396.7h0M426.0 400.5h0M434.4 404.0h0M447.9 407.1h0M437.8 405.3h0M441.5 391.6h0M446.7 409.2h0M446.1 409.7h0M435.0 400.0h0M428.3 405.7h0M427.3 391.9h0M430.7 394.2h0M433.8 391.6h0M425.9 394.0h0M428.3 399.1h0M426.5 411.5h0M440.1 393.9h0M431.7 398.7h0M434.3 393.3h0M445.5 414.4h0M436.7 402.0h0M427.9 392.8h0M433.8 396.7h0M445.1 394.2h0M426.4 413.4h0M438.1 393.9h0M438.5 391.0h0M438.1 414.0h0M445.9 407.2h0M431.9 399.2h0M429.8 409.0h0M438.2 409.2h0M433.5 395.7h0M444.7 414.2h0M468.7 409.9h0M467.9 408.2h0M454.3 402.9h0M457.2 391.0h0M449.7 397.1h0M455.0 407.1h0M471.1 401.1h0M470.7 414.3h0M471.1 399.1h0M454.1 395.8h0M453.6 395.3h0M463.4 412.1h0M468.4 401.9h0M464.1 409.7h0M451.0 406.3h0M470.0 409.3h0M466.3 401.9h0M453.1 409.4h0M456.7 409.7h0M471.5 399.9h0M458.3 413.3h0M465.8 394.4h0M451.9 394.0h0M469.9 409.9h0M452.4 410.4h0M494.8 406.2h0M480.2 403.6h0M475.1 390.6h0M494.6 406.1h0M484.3 413.0h0M482.1 411.4h0M491.2 395.4h0M477.9 397.4h0M477.7 404.5h0M478.1 400.5h0M475.1 412.4h0M480.3 401.4h0M485.6 412.2h0M481.8 412.6h0M483.7 403.2h0M484.2 390.7h0M482.3 394.7h0M472.2 409.7h0M476.1 401.8h0M419.6 428.1h0M410.3 427.1h0M415.6 433.6h0M405.3 428.2h0M408.5 421.3h0M420.6 426.9h0M415.8 433.0h0M423.9 425.3h0M417.0 426.8h0M414.6 431.4h0M413.3 427.5h0M413.8 437.4h0M419.0 435.8h0M424.6 420.9h0M415.7 437.5h0M422.2 417.9h0M405.6 425.3h0M404.5 420.4h0M404.5 430.8h0M420.9 436.3h0M406.4 431.9h0M418.1 418.0h0M446.3 438.0h0M431.0 437.7h0M435.1 426.4h0M448.8 434.8h0M429.6 425.0h0M437.8 422.8h0M430.4 422.3h0M442.6 415.0h0M438.7 425.3h0M426.3 422.6h0M440.3 427.0h0M427.4 438.5h0M444.1 438.1h0M428.3 421.0h0M426.8 433.5h0M432.2 417.7h0M435.7 436.7h0M444.8 420.8h0M429.4 436.9h0M439.1 431.6h0M428.0 416.0h0M441.8 424.9h0M427.6 437.3h0M440.6 434.0h0M427.8 435.3h0M427.4 435.5h0M436.4 422.8h0M438.7 437.0h0M432.1 417.7h0M438.1 420.3h0M428.4 418.5h0M427.1 419.5h0M433.1 422.0h0M466.6 421.6h0M460.6 418.9h0M457.0 415.0h0M454.8 414.9h0M466.0 427.9h0M453.4 426.1h0M470.6 417.1h0M467.9 425.0h0M460.5 434.8h0M458.1 426.9h0M464.9 438.4h0M456.9 434.8h0M465.3 430.0h0M458.4 423.0h0M450.3 417.7h0M450.6 432.5h0M454.9 418.5h0M451.0 435.0h0M469.1 430.8h0M455.5 420.4h0M455.8 425.7h0M452.7 425.4h0M478.2 437.9h0M494.6 427.8h0M477.8 438.0h0M479.3 423.2h0M472.1 423.8h0M483.1 426.8h0M476.8 426.8h0M472.2 421.0h0M474.2 424.3h0M473.1 415.1h0M479.2 420.2h0M485.7 427.4h0M489.5 430.5h0M488.7 435.9h0M481.1 422.5h0M494.9 418.2h0M419.5 454.4h0M403.8 459.1h0M423.4 454.1h0M419.8 458.5h0M406.0 451.5h0M414.5 459.1h0M421.4 458.9h0M416.3 460.5h0M418.6 455.7h0M408.1 439.6h0M405.9 447.6h0M405.2 459.1h0M415.7 454.1h0M417.3 455.3h0M414.1 438.9h0M421.2 457.0h0M414.4 451.8h0M418.0 440.4h0M419.8 444.9h0M427.6 445.3h0M442.8 443.8h0M443.0 462.5h0M437.3 448.1h0M437.0 455.4h0M443.6 453.8h0M440.8 440.7h0M429.3 445.0h0M443.1 446.2h0M439.0 439.1h0M427.3 445.4h0M441.4 455.6h0M441.5 445.9h0M437.8 450.1h0M436.7 441.7h0M446.6 443.7h0M471.6 461.5h0M449.4 450.0h0M468.0 462.3h0M459.4 445.3h0M453.9 461.8h0M453.9 452.9h0M452.3 451.5h0M471.0 442.0h0M468.0 451.2h0M469.5 455.9h0M454.4 460.6h0M460.2 439.4h0M449.1 450.8h0M459.4 446.2h0M452.3 447.2h0M456.3 459.2h0M472.2 457.0h0M491.5 441.7h0M493.5 456.1h0M493.0 445.9h0M480.7 448.4h0M495.2 453.1h0M480.5 449.2h0M478.5 440.0h0M474.5 459.1h0M478.7 461.5h0M477.9 445.3h0M483.9 443.4h0M480.7 462.0h0M492.6 458.5h0M440.5 485.3h0M447.6 476.4h0M442.5 464.3h0M442.8 474.0h0M443.3 478.7h0M432.5 464.3h0M470.4 466.2h0M459.9 471.4h0M455.9 481.0h0M471.6 469.4h0M464.2 470.4h0M485.0 472.7h0M476.0 467.0h0M476.9 485.1h0M437.4 492.7h0M446.8 511.5h0M436.3 490.8h0M430.4 489.6h0M433.8 489.6h0M431.4 493.6h0M462.2 508.9h0M466.3 497.4h0M458.6 500.1h0M457.7 495.6h0M473.6 494.1h0M494.5 490.4h0M483.8 502.6h0M492.1 492.6h0M405.9 469.1h0M407.4 473.9h0M413.8 483.7h0M412.9 463.6h0M403.2 480.3h0M413.1 474.6h0M409.6 463.1h0M407.3 485.6h0M423.9 483.9h0M425.6 469.1h0M415.6 466.8h0M408.8 503.9h0M413.7 504.9h0M410.3 505.9h0M408.1 500.7h0M403.3 506.3h0M405.5 509.7h0M410.3 494.7h0M404.3 493.5h0M410.2 504.3h0M415.6 489.1h0M420.4 501.5h0M418.8 492.8h0M393.6 390.5h0M386.7 401.5h0M401.9 405.9h0M400.1 401.8h0M385.1 396.3h0M401.9 407.4h0M386.8 390.8h0M391.2 406.7h0M389.4 396.5h0M395.1 412.7h0M384.9 391.1h0M387.5 400.5h0M395.5 395.1h0M398.1 408.2h0M391.4 395.3h0M402.1 397.9h0M398.6 395.9h0M384.8 408.7h0M386.5 437.7h0M391.1 419.1h0M384.9 424.7h0M395.1 437.6h0M383.1 424.1h0M384.6 438.2h0M383.0 415.8h0M381.1 424.1h0M400.4 436.0h0M396.6 438.8h0M401.2 422.6h0M384.0 437.3h0M396.9 415.3h0M395.0 423.7h0M388.3 422.6h0M383.6 414.6h0M386.2 423.1h0M401.8 417.6h0M402.0 443.9h0M387.9 458.8h0M398.7 449.3h0M380.8 450.3h0M388.3 461.1h0M384.2 447.7h0M400.4 439.6h0M389.2 458.5h0M397.4 439.8h0M380.5 440.3h0M401.0 445.1h0M397.0 460.6h0M387.5 445.4h0M401.8 453.8h0M385.8 456.2h0M387.0 445.5h0M379.8 457.2h0M400.9 478.5h0M401.5 463.7h0M385.1 474.6h0M401.8 486.2h0M388.6 469.2h0M389.6 475.1h0M401.1 467.5h0M398.2 481.0h0M398.7 481.8h0M393.7 471.1h0M387.1 471.9h0M397.8 465.0h0M384.3 481.4h0M385.4 464.7h0M380.5 476.5h0M387.2 486.9h0M400.1 487.1h0M385.8 465.1h0M381.9 499.5h0M396.1 498.2h0M385.1 497.5h0M394.0 503.7h0M397.0 507.9h0M395.0 490.3h0M399.1 494.5h0M392.8 496.4h0M396.7 492.2h0M385.4 493.3h0M383.2 508.8h0M393.1 495.3h0M388.8 511.4h0M391.4 493.0h0M398.4 503.2h0M402.6 489.8h0M413.8 288.8h0M422.2 291.1h0M403.7 276.1h0M405.6 273.6h0M425.3 283.1h0M424.3 278.0h0M422.8 279.9h0M408.8 287.8h0M424.7 271.5h0M416.6 284.0h0M407.8 277.9h0M406.1 273.9h0M408.7 283.5h0M417.9 273.9h0M403.1 276.9h0M418.5 273.5h0M410.0 273.9h0M421.2 282.3h0M404.3 271.4h0M411.9 282.3h0M417.6 271.2h0M406.6 285.8h0M412.3 275.8h0M409.9 292.1h0M410.0 282.7h0M434.2 279.1h0M445.9 293.1h0M434.3 273.7h0M442.7 273.9h0M426.0 290.8h0M435.7 288.9h0M435.3 290.4h0M436.6 272.9h0M426.2 282.3h0M440.7 291.0h0M428.0 284.1h0M434.5 281.2h0M429.3 275.8h0M437.9 291.4h0M428.4 280.9h0M444.5 292.4h0M430.5 272.0h0M447.7 292.6h0M437.1 270.3h0M447.3 278.4h0M446.8 284.0h0M445.0 272.8h0M444.1 274.3h0M435.3 289.5h0M445.1 273.4h0M430.9 278.7h0M437.9 278.3h0M428.8 275.0h0M442.7 290.7h0M426.9 282.6h0M443.4 269.9h0M468.4 271.8h0M462.9 282.3h0M463.5 276.4h0M458.7 283.1h0M458.9 284.9h0M459.3 279.6h0M449.6 284.0h0M460.3 274.7h0M466.7 287.9h0M459.6 273.3h0M459.9 271.6h0M452.0 279.4h0M451.1 279.7h0M460.8 269.9h0M463.7 271.0h0M466.0 287.8h0M460.8 270.3h0M460.7 278.1h0M471.0 272.3h0M468.8 293.1h0M465.9 288.7h0M453.5 292.8h0M460.4 292.2h0M470.2 273.0h0M467.2 291.5h0M450.5 277.5h0M466.5 272.8h0M469.7 275.6h0M467.9 272.4h0M460.6 291.3h0M453.8 275.3h0M460.7 276.7h0M473.0 273.4h0M475.8 291.7h0M487.8 290.7h0M476.0 288.0h0M474.8 281.8h0M486.8 277.7h0M492.3 282.4h0M485.5 290.4h0M474.5 293.1h0M486.7 278.5h0M490.6 275.4h0M495.0 283.0h0M480.4 287.5h0M482.3 273.2h0M489.3 270.1h0M491.1 275.1h0M486.9 292.8h0M485.7 285.1h0M479.3 269.0h0M472.9 272.6h0M486.4 279.4h0M484.0 290.7h0M475.2 274.5h0M487.2 269.5h0M472.2 277.6h0M405.3 301.9h0M408.0 307.4h0M416.4 298.2h0M417.2 304.8h0M405.9 316.0h0M408.4 296.9h0M405.0 308.7h0M422.9 312.2h0M412.1 299.6h0M403.1 308.9h0M415.8 301.7h0M417.7 304.0h0M424.5 311.0h0M408.5 315.2h0M403.8 306.1h0M412.2 299.0h0M404.1 312.1h0M403.1 306.6h0M424.5 296.7h0M430.5 308.0h0M437.6 308.8h0M444.7 297.5h0M433.1 300.5h0M427.0 314.8h0M444.0 310.6h0M426.1 313.7h0M443.1 304.5h0M443.0 304.2h0M431.1 295.8h0M431.3 294.2h0M433.7 311.4h0M442.0 313.7h0M442.4 299.7h0M438.7 303.8h0M444.1 305.9h0M432.0 308.8h0M448.2 298.5h0M446.2 293.6h0M431.9 299.0h0M443.1 316.2h0M443.1 301.2h0M446.2 301.2h0M431.4 315.3h0M440.5 310.0h0M441.3 317.0h0M436.8 313.6h0M442.0 314.0h0M436.0 310.8h0M439.1 300.7h0M430.8 308.3h0M427.7 315.3h0M452.4 293.9h0M451.5 315.8h0M457.0 296.7h0M449.7 294.2h0M465.0 308.6h0M465.1 311.1h0M450.5 307.6h0M457.4 313.1h0M468.0 314.9h0M450.5 314.3h0M470.1 316.1h0M451.5 298.2h0M451.6 294.1h0M468.6 312.9h0M463.7 313.2h0M463.6 300.2h0M451.3 295.6h0M466.5 298.2h0M456.4 303.5h0M449.5 299.5h0M455.5 310.6h0M457.5 301.0h0M471.3 305.5h0M468.7 308.2h0M472.8 303.2h0M482.2 312.0h0M480.1 310.3h0M484.5 298.5h0M492.0 295.4h0M491.1 297.4h0M472.2 298.1h0M489.7 317.0h0M472.2 305.1h0M483.5 312.6h0M476.4 305.2h0M480.1 313.4h0M478.1 316.1h0M478.7 298.4h0M488.3 305.3h0M474.7 308.7h0M474.0 312.3h0M488.2 312.3h0M486.6 301.9h0M412.1 327.1h0M423.4 319.6h0M423.3 318.1h0M407.6 323.9h0M423.6 329.7h0M411.6 338.9h0M408.2 328.7h0M415.1 335.8h0M420.2 333.2h0M410.9 325.4h0M406.4 338.0h0M418.1 335.5h0M406.7 328.1h0M420.7 331.5h0M405.7 328.7h0M423.3 323.3h0M407.2 324.8h0M419.0 338.0h0M406.4 321.3h0M431.6 325.4h0M438.0 321.4h0M433.5 322.1h0M448.4 335.2h0M428.3 340.8h0M428.3 326.8h0M448.6 336.8h0M442.9 328.0h0M430.4 333.0h0M428.4 322.5h0M434.9 318.3h0M435.1 336.7h0M441.9 329.6h0M440.5 328.7h0M429.2 332.1h0M435.3 335.5h0M446.9 327.9h0M439.2 335.7h0M435.6 323.0h0M465.7 338.9h0M466.9 334.5h0M468.7 334.0h0M463.8 328.5h0M456.2 332.7h0M451.3 327.7h0M467.1 334.8h0M463.6 323.6h0M458.8 328.5h0M463.4 327.4h0M464.6 340.1h0M453.2 333.4h0M467.0 326.9h0M460.3 341.1h0M449.9 330.7h0M452.7 336.5h0M470.7 330.1h0M451.3 331.4h0M461.5 334.9h0M484.0 333.0h0M491.3 330.2h0M481.6 340.5h0M477.0 334.1h0M481.2 336.0h0M474.9 341.4h0M480.3 318.9h0M478.5 327.2h0M472.4 327.7h0M481.8 334.4h0M480.3 323.9h0M477.3 335.5h0M493.8 330.3h0M477.2 336.9h0M481.2 322.6h0M475.1 336.3h0M421.5 357.2h0M413.6 355.4h0M408.0 365.2h0M411.0 357.3h0M421.7 361.6h0M413.6 348.9h0M415.5 344.8h0M422.1 350.4h0M422.5 348.3h0M411.5 347.9h0M435.8 346.3h0M426.0 359.3h0M432.4 347.7h0M432.9 353.4h0M435.8 357.2h0M441.1 350.6h0M447.4 362.5h0M427.2 361.9h0M446.8 360.8h0M429.2 361.9h0M440.5 342.1h0M426.2 364.9h0M464.2 347.8h0M451.4 345.2h0M454.4 360.6h0M457.0 345.5h0M469.9 361.0h0M452.9 363.4h0M463.1 360.7h0M464.5 363.5h0M467.2 362.1h0M453.6 358.6h0M461.3 359.8h0M459.1 363.2h0M484.9 348.2h0M477.5 345.1h0M483.5 343.2h0M482.9 345.3h0M483.5 353.9h0M484.6 362.7h0M472.3 362.2h0M482.9 355.4h0M487.5 362.2h0M480.8 351.9h0M494.3 343.6h0M486.8 357.2h0M403.5 380.8h0M418.6 388.6h0M410.4 389.9h0M414.6 377.8h0M423.5 366.9h0M419.4 381.2h0M410.6 386.9h0M411.3 377.5h0M414.9 384.7h0M407.7 376.6h0M412.6 379.5h0M421.9 373.1h0M421.9 375.8h0M414.4 372.6h0M414.5 389.7h0M417.9 385.2h0M410.4 373.7h0M409.7 380.3h0M417.5 385.1h0M403.7 383.6h0M423.3 379.3h0M403.9 373.3h0M426.1 370.6h0M447.2 380.8h0M441.1 385.2h0M446.9 380.9h0M440.2 381.2h0M442.0 380.5h0M441.6 371.2h0M441.3 377.1h0M443.5 368.5h0M430.1 366.9h0M443.8 388.2h0M441.1 375.0h0M444.9 385.1h0M438.9 372.3h0M432.9 376.3h0M433.3 376.5h0M440.7 388.7h0M427.2 379.8h0M426.8 368.9h0M444.6 380.0h0M447.1 376.9h0M426.2 375.4h0M439.6 388.8h0M448.6 377.6h0M435.4 368.5h0M463.9 371.2h0M452.5 366.4h0M449.1 382.6h0M451.8 389.5h0M451.1 387.1h0M452.0 366.5h0M465.6 371.9h0M466.0 370.6h0M450.2 384.8h0M465.5 386.8h0M465.9 368.1h0M463.5 383.2h0M459.7 388.7h0M454.9 389.4h0M465.6 366.3h0M449.4 381.8h0M467.9 368.0h0M456.2 383.7h0M452.8 386.9h0M483.4 367.5h0M480.6 380.0h0M482.3 382.5h0M475.5 385.4h0M480.5 381.7h0M486.7 376.2h0M481.0 385.1h0M494.0 385.1h0M485.2 373.1h0M473.5 389.7h0M488.4 386.1h0M479.8 380.7h0M494.7 386.2h0M486.0 373.5h0M482.0 387.6h0M480.8 382.6h0M458.4 255.9h0M477.4 264.8h0M403.0 265.1h0M441.9 260.4h0M478.2 256.0h0M403.8 143.6h0M421.6 144.4h0M416.0 130.0h0M422.5 142.9h0M441.7 145.5h0M433.9 125.4h0M461.8 142.7h0M453.6 141.6h0M470.5 129.0h0M486.1 139.8h0M413.6 516.6h0M408.7 529.9h0M421.1 522.8h0M404.8 531.2h0M420.6 517.3h0M416.2 533.4h0M423.3 524.3h0M413.8 525.9h0M407.2 516.3h0M407.0 528.6h0M411.2 525.3h0M412.1 524.2h0M406.2 512.7h0M425.8 520.7h0M405.3 527.0h0M421.0 515.4h0M416.6 520.0h0M437.9 512.1h0M426.7 535.7h0M445.9 523.4h0M439.0 518.0h0M443.9 522.0h0M447.8 530.2h0M444.8 535.0h0M431.8 512.5h0M430.6 516.0h0M427.8 512.9h0M461.9 532.8h0M459.6 534.6h0M470.0 513.2h0M462.8 521.3h0M451.8 534.9h0M455.0 525.3h0M486.9 534.8h0M487.6 521.2h0M482.5 515.5h0M494.4 535.7h0M477.2 512.6h0M478.0 520.2h0M423.7 557.8h0M422.1 537.0h0M421.0 553.1h0M417.7 559.8h0M404.1 539.4h0M420.2 558.7h0M418.4 543.1h0M416.5 554.3h0M405.2 543.8h0M408.7 538.9h0M437.0 540.0h0M431.4 539.4h0M441.6 536.2h0M442.5 540.6h0M426.7 558.4h0M431.0 558.6h0M445.9 557.5h0M429.1 546.8h0M428.1 558.4h0M445.4 551.1h0M459.5 544.1h0M468.0 547.5h0M463.5 539.4h0M454.1 537.3h0M465.5 549.3h0M452.4 557.0h0M455.2 545.9h0M452.6 542.5h0M468.4 544.0h0M452.9 547.8h0M456.4 557.8h0M474.8 559.6h0M473.4 557.6h0M487.6 541.0h0M483.2 542.8h0M478.1 540.8h0M480.5 559.9h0M495.2 558.3h0M474.4 542.9h0M492.8 537.3h0M488.9 543.0h0M425.4 560.6h0M421.4 568.4h0M406.0 560.2h0M422.0 572.9h0M407.1 570.7h0M423.9 565.5h0M416.0 563.5h0M407.0 578.9h0M442.4 564.9h0M427.7 562.3h0M440.0 572.2h0M432.2 565.2h0M440.1 577.3h0M444.7 574.3h0M430.6 561.8h0M442.8 570.1h0M442.6 561.5h0M444.6 568.3h0M445.4 581.1h0M437.3 560.5h0M470.0 571.7h0M469.2 566.6h0M453.3 580.3h0M457.5 564.1h0M457.6 574.6h0M449.1 572.8h0M459.3 572.7h0M451.8 577.5h0M467.9 581.2h0M456.4 577.4h0M480.9 578.4h0M473.5 581.3h0M494.2 572.2h0M484.0 573.0h0M484.5 560.7h0M494.5 565.6h0M421.1 580.9h0M421.9 539.3h0M419.3 581.2h0M427.1 575.5h0M419.2 551.9h0M425.6 556.4h0M427.1 580.9h0M429.0 545.1h0M419.5 579.7h0M424.7 557.7h0M422.2 579.8h0M423.7 578.9h0M425.8 536.7h0M420.7 553.5h0M427.6 577.3h0M428.5 532.3h0M423.5 562.4h0M428.7 556.2h0M423.5 532.0h0M428.0 567.1h0M385.2 519.8h0M389.8 535.4h0M398.3 533.8h0M398.5 532.2h0M380.9 524.2h0M401.8 534.3h0M385.5 521.9h0M394.3 520.5h0M392.0 513.3h0M389.7 523.9h0M380.2 515.0h0M402.1 530.5h0M401.3 551.3h0M398.4 557.4h0M400.1 536.7h0M394.5 542.3h0M395.4 542.5h0M392.2 558.3h0M394.0 542.0h0M391.7 546.4h0M401.7 542.9h0M386.8 551.6h0M382.5 550.3h0M401.8 548.4h0M385.9 547.2h0M392.0 539.5h0M382.6 539.1h0M386.5 545.8h0M386.4 541.8h0M381.7 549.2h0M399.1 550.7h0M392.9 575.9h0M384.3 577.4h0M390.3 573.5h0M393.9 571.5h0M386.9 566.0h0M384.8 572.6h0M388.5 574.4h0M380.0 568.7h0M399.6 566.0h0M392.6 572.1h0M359.2 656.9h0M359.3 651.7h0M358.1 634.6h0M364.6 667.9h0M357.2 666.6h0M360.7 675.1h0M357.6 687.0h0M365.5 699.4h0M358.0 689.7h0M359.8 697.9h0M362.3 726.4h0M364.2 718.3h0M363.4 723.8h0M374.1 737.0h0M374.7 740.3h0M377.7 731.9h0M376.7 730.1h0M374.3 738.6h0M368.1 744.1h0M425.8 643.1h0M428.5 654.1h0M426.2 642.2h0M424.2 644.1h0M427.7 640.1h0M423.5 670.7h0M423.4 665.0h0M428.5 677.8h0M424.8 668.0h0M420.8 664.6h0M420.3 695.5h0M425.9 683.6h0M430.2 689.4h0M429.2 701.8h0M430.7 686.5h0M423.9 703.6h0M418.6 706.9h0M425.7 717.8h0M430.2 724.5h0M425.3 730.0h0M425.1 718.3h0M427.2 715.2h0M423.0 744.5h0M423.0 753.0h0M381.1 618.6h0M374.2 614.4h0M377.8 619.6h0M379.9 628.6h0M384.6 617.5h0M378.3 621.4h0M385.0 613.5h0M379.4 626.8h0M375.0 612.8h0M384.7 627.1h0M379.2 607.0h0M383.7 623.3h0M382.8 631.7h0M383.7 615.7h0M374.9 612.0h0M379.1 618.1h0M375.3 609.0h0M380.6 620.8h0M377.2 631.8h0M413.6 607.4h0M403.5 626.5h0M398.8 624.0h0M385.2 614.1h0M422.9 621.4h0M415.1 611.3h0M407.4 620.5h0M397.0 622.9h0M408.9 631.9h0M410.9 616.8h0M390.5 610.3h0M419.2 609.0h0M389.5 610.7h0M408.5 627.4h0M412.6 627.0h0M387.8 606.6h0M419.7 614.6h0M417.2 615.4h0M392.6 613.1h0M389.5 629.5h0M411.2 615.2h0M405.2 616.2h0M387.5 629.2h0M411.2 631.0h0M404.8 622.2h0M396.2 607.4h0M426.9 628.3h0M399.2 629.4h0M421.7 614.1h0M412.1 631.0h0M407.3 630.7h0M395.9 616.3h0M417.3 612.0h0M398.9 628.8h0M406.8 626.7h0M396.0 610.7h0M401.1 611.1h0M428.7 613.7h0M410.3 609.2h0M409.0 616.2h0M403.1 608.0h0M390.5 627.5h0M400.8 612.6h0M393.6 613.6h0M395.7 607.2h0M414.9 615.1h0M392.0 624.4h0M389.2 613.2h0M422.6 609.6h0M404.9 627.8h0M421.2 610.4h0M400.9 624.9h0M402.0 630.9h0M394.4 630.7h0M407.7 612.1h0M405.4 609.6h0M416.8 613.0h0M425.5 621.4h0M401.6 612.6h0M412.4 611.7h0M424.3 609.4h0M408.1 620.2h0M397.2 626.1h0M402.3 623.2h0M410.5 614.3h0M402.5 608.5h0M393.0 628.2h0M399.4 623.3h0M389.9 620.7h0M401.3 619.1h0M398.4 608.0h0M399.0 612.1h0M390.7 624.7h0M397.7 616.6h0M425.9 626.2h0M424.7 628.4h0M390.9 613.4h0M386.3 623.8h0M414.9 615.3h0M403.6 623.2h0M416.5 612.7h0M423.1 615.3h0M413.3 610.9h0M390.2 629.7h0M418.0 624.6h0M386.8 607.3h0M392.3 611.4h0M398.6 616.1h0M386.8 614.3h0M413.7 610.9h0M422.8 620.9h0M417.2 612.8h0M404.6 623.9h0M400.7 606.3h0M422.5 626.2h0M397.9 607.4h0M423.4 621.9h0M387.1 612.6h0M390.0 626.6h0M394.5 629.8h0M418.7 608.5h0M416.3 616.4h0M418.6 627.6h0M397.7 608.6h0M427.6 617.2h0M426.9 624.1h0M418.2 627.6h0M413.3 617.9h0M387.4 624.2h0M404.3 619.4h0M426.8 609.6h0M419.3 607.4h0M416.6 627.0h0M396.8 620.3h0M428.6 622.7h0M409.5 612.7h0M387.7 615.5h0M403.5 611.5h0M399.0 609.8h0M416.8 623.5h0M395.7 612.5h0M408.2 617.7h0M427.1 615.3h0M398.5 629.0h0M391.4 620.8h0M400.0 627.2h0M409.7 625.8h0M392.6 623.4h0M411.9 618.1h0M419.5 627.7h0M390.2 613.7h0M401.2 611.6h0M387.7 613.5h0M393.9 624.3h0M405.2 609.2h0M399.6 618.3h0M401.3 610.6h0M388.2 606.5h0M429.6 625.6h0M388.8 624.7h0M429.1 620.8h0M389.9 618.8h0M404.5 611.2h0M409.4 606.5h0M426.4 622.8h0M413.2 630.3h0M414.4 612.7h0M396.1 609.8h0M386.2 626.2h0M422.8 613.9h0M393.4 622.7h0M423.1 630.1h0M392.6 626.5h0M422.4 625.4h0M399.7 611.0h0M422.1 614.5h0M401.6 620.4h0M401.6 627.7h0M395.8 607.3h0M410.5 622.4h0M421.9 624.4h0M425.7 630.6h0M407.2 619.1h0M392.1 614.0h0M411.2 608.3h0M445.1 610.5h0M439.8 631.2h0M432.0 607.3h0M439.7 611.2h0M445.9 606.3h0M448.5 628.3h0M447.3 617.2h0M436.2 623.3h0M441.3 617.1h0M437.5 617.6h0M444.7 627.5h0M449.9 610.5h0M436.5 617.7h0M442.4 615.2h0M434.3 608.5h0M437.1 618.1h0M451.4 629.6h0M449.0 631.3h0M451.2 622.2h0M447.8 607.8h0M444.9 621.9h0M436.5 621.0h0M451.0 618.6h0M444.2 614.0h0M437.6 629.0h0M430.6 611.1h0M444.9 617.8h0M431.9 623.3h0M438.2 621.2h0M439.2 619.9h0M442.4 616.5h0M432.5 610.9h0M449.6 620.4h0M432.5 628.4h0M435.6 608.7h0M441.7 612.7h0M440.8 620.5h0M435.0 621.0h0M432.5 619.5h0M442.9 608.3h0M439.0 608.2h0M439.7 628.5h0M442.1 624.7h0M446.7 609.2h0M451.8 624.8h0M432.2 627.6h0M438.6 610.7h0M451.1 620.8h0M447.0 609.8h0M447.1 607.8h0M435.2 615.8h0M430.3 621.6h0M434.7 614.0h0M445.6 617.2h0M449.5 622.2h0M449.2 620.8h0M450.2 628.7h0M433.7 625.4h0M437.5 625.9h0M445.0 627.5h0M432.7 615.9h0M446.2 630.7h0M445.9 607.4h0M443.3 608.8h0M463.0 626.4h0M454.3 629.9h0M465.5 611.0h0M455.9 616.4h0M468.8 620.2h0M454.3 604.4h0M454.2 626.4h0M455.7 619.4h0M457.8 623.2h0M459.6 607.9h0M469.5 619.0h0M465.8 626.6h0M471.0 604.2h0M458.8 608.1h0M462.0 628.4h0M468.0 604.8h0M455.6 626.9h0M465.6 614.9h0M482.9 612.5h0M491.4 618.2h0M492.1 623.5h0M473.7 616.7h0M477.0 630.4h0M485.6 609.8h0M475.9 617.5h0M482.8 622.7h0M480.9 617.3h0M472.1 622.8h0M479.7 609.2h0M482.6 632.6h0M369.6 587.3h0M378.4 589.7h0M372.8 594.1h0M395.1 595.5h0M407.3 603.0h0M428.6 585.1h0M408.8 599.4h0M423.1 599.5h0M412.1 596.8h0M399.7 589.9h0M419.6 601.4h0M426.2 597.7h0M397.0 599.3h0M417.0 594.3h0M412.2 591.2h0M408.3 592.3h0M385.8 591.0h0M397.9 603.6h0M405.1 591.6h0M394.2 589.0h0M399.1 587.1h0M383.3 601.3h0M403.8 593.1h0M409.2 590.3h0M390.8 585.7h0M396.9 590.4h0M416.4 595.1h0M426.1 591.0h0M425.4 595.8h0M386.7 587.9h0M409.7 603.6h0M399.4 599.5h0M402.7 601.3h0M386.1 593.8h0M424.4 589.8h0M394.8 584.9h0M390.6 589.6h0M415.4 588.7h0M401.4 588.3h0M410.7 601.2h0M412.8 588.2h0M416.8 603.1h0M410.6 586.0h0M420.2 601.4h0M398.7 587.1h0M391.7 594.9h0M459.6 596.9h0M461.3 588.6h0M440.4 599.0h0M451.7 592.3h0M452.8 591.0h0M431.0 592.5h0M430.6 596.6h0M440.7 594.0h0M449.9 589.4h0M445.2 584.7h0M461.4 595.4h0M463.6 585.5h0M450.5 598.5h0M440.5 586.2h0M434.5 587.2h0M487.8 586.6h0M489.2 594.7h0M480.7 598.7h0M481.2 600.4h0M482.6 592.5h0M487.0 590.7h0M486.1 603.0h0M488.1 591.9h0M394.5 665.7h0M401.4 689.6h0M401.3 726.3h0M399.5 660.3h0M400.4 660.8h0M398.8 736.3h0M403.2 649.1h0M400.7 669.0h0M407.7 661.6h0M402.2 674.5h0M392.6 708.7h0M406.1 729.4h0M403.7 701.2h0M405.6 739.5h0M404.9 649.7h0M404.4 710.4h0M411.1 720.1h0M387.1 662.0h0M401.1 715.7h0M395.5 724.9h0M403.3 684.2h0M413.5 705.2h0M383.2 656.9h0M411.7 705.6h0M404.4 738.8h0M398.9 731.7h0M397.1 707.2h0M401.5 671.1h0M399.6 717.3h0M399.7 676.0h0M402.4 691.1h0M405.5 709.4h0M404.3 720.8h0M409.1 725.6h0M406.1 688.1h0M417.2 648.6h0M399.2 655.1h0M407.6 709.1h0M399.2 697.7h0M391.5 673.9h0M397.5 673.6h0M403.3 651.7h0M394.7 699.6h0M400.5 696.9h0M399.8 681.5h0M403.3 711.9h0M389.9 720.4h0M394.1 650.7h0M416.4 676.8h0M403.3 739.7h0M393.3 683.0h0M393.2 722.9h0M398.3 677.5h0M393.6 676.3h0M414.6 723.3h0M392.1 694.4h0M407.3 723.1h0M401.7 687.7h0M395.2 723.2h0M387.1 696.1h0M408.5 665.5h0M404.1 661.0h0M394.3 733.9h0M413.9 705.0h0M401.5 678.5h0M393.9 663.1h0M404.3 687.9h0M408.2 697.5h0M396.0 735.3h0M397.2 710.1h0M401.9 678.8h0M398.4 659.7h0M398.5 698.0h0M402.2 700.5h0M403.7 700.6h0M392.8 650.7h0M400.1 708.0h0M409.1 688.7h0M394.6 737.3h0M385.7 661.5h0M387.1 697.6h0M398.9 675.5h0M392.0 699.8h0M403.3 666.0h0M402.1 732.3h0M393.6 734.8h0M394.5 735.6h0M402.9 737.7h0M402.4 644.1h0M397.8 710.3h0M392.7 660.4h0M405.6 735.1h0M400.5 665.3h0M392.1 685.6h0M401.2 685.7h0M405.4 651.5h0M394.3 685.7h0M397.4 713.5h0M391.2 709.6h0M386.7 696.2h0M398.8 733.2h0M396.3 662.7h0M402.3 650.8h0M398.5 676.9h0M403.8 660.5h0M402.3 735.7h0M399.1 704.3h0M409.6 668.9h0M402.4 735.7h0M396.9 712.5h0M396.6 684.5h0M406.5 701.0h0M404.0 720.5h0M396.8 674.7h0M389.3 654.9h0M405.9 650.5h0M398.5 661.1h0M392.9 693.3h0M398.5 736.6h0M401.4 657.0h0M399.0 682.3h0M398.6 706.7h0M400.0 711.3h0M411.0 722.6h0M398.7 711.6h0M393.6 686.9h0M405.5 736.4h0M395.8 720.7h0M407.6 672.3h0M414.0 708.0h0M402.2 649.3h0M400.0 653.0h0M407.0 721.2h0M406.3 685.6h0M413.5 722.4h0M416.0 691.6h0M401.3 692.9h0M411.0 685.8h0M401.1 720.4h0M398.0 685.6h0M393.1 689.9h0M409.0 674.1h0M392.7 652.7h0M392.8 661.1h0M397.2 647.6h0M410.9 698.4h0M402.9 675.0h0M416.0 726.0h0M391.9 644.1h0M400.8 665.0h0M408.8 661.0h0M408.8 658.7h0M409.7 708.5h0M407.4 675.0h0M385.7 653.0h0M393.7 659.9h0M395.9 660.6h0M397.8 659.2h0M397.4 645.8h0M400.3 715.6h0M385.0 696.9h0M390.5 674.0h0M411.7 659.4h0M392.4 700.1h0M406.0 714.4h0M402.1 738.6h0M393.9 662.0h0M391.8 712.3h0M404.4 682.6h0M393.3 673.2h0M408.4 726.5h0M406.0 721.6h0M398.1 718.2h0M393.5 681.2h0M404.2 648.2h0M399.6 662.2h0M399.8 722.9h0M399.8 696.2h0M403.5 732.6h0M393.6 703.6h0M404.2 646.9h0M393.3 697.2h0M389.7 671.5h0M387.6 650.5h0M409.7 734.3h0M403.5 678.0h0M399.8 654.3h0M413.5 711.3h0M397.9 724.2h0M398.8 702.1h0M394.2 674.1h0M398.5 682.9h0M411.7 666.6h0M403.8 674.5h0M401.5 684.6h0M402.7 724.9h0M398.9 675.2h0M416.8 709.9h0M404.0 724.0h0M403.9 711.2h0M405.0 697.3h0M398.6 720.2h0M392.1 696.6h0M400.1 713.8h0M399.9 689.1h0M394.3 705.0h0M396.0 687.6h0M392.0 660.6h0M399.3 705.8h0M400.0 733.1h0M389.6 700.2h0M389.9 738.8h0M393.1 673.8h0M396.1 649.6h0M405.2 660.1h0M392.7 681.8h0M404.3 727.3h0M402.6 691.6h0M404.9 676.8h0M402.9 713.5h0M399.9 727.3h0M391.8 653.6h0M391.5 668.5h0M397.9 726.8h0M389.7 713.8h0M400.3 713.4h0M402.8 674.9h0M397.3 662.4h0M400.0 658.7h0M402.5 720.3h0M412.2 686.5h0M396.8 733.8h0M402.2 712.2h0M411.6 719.7h0M402.0 658.0h0M400.6 735.7h0M393.9 679.4h0M401.8 687.6h0M413.3 644.3h0M399.6 649.0h0M402.7 702.0h0M403.5 675.1h0M410.2 697.1h0M409.8 685.1h0M395.9 726.3h0M414.3 646.5h0M404.1 676.0h0M401.1 738.5h0M406.1 674.4h0M399.5 720.7h0M407.9 738.1h0M401.7 661.2h0M403.5 652.3h0M402.1 694.1h0M401.1 685.5h0M403.3 737.7h0M407.0 671.7h0M404.7 674.5h0M401.2 727.1h0M405.6 695.3h0M406.2 702.2h0M392.7 736.8h0M401.2 702.0h0M407.0 648.2h0M391.1 720.8h0M397.4 673.3h0M393.0 673.9h0M400.4 673.8h0M409.2 670.7h0M401.2 682.2h0M402.8 715.6h0M387.5 679.0h0M398.5 730.6h0M410.9 734.6h0M395.7 719.6h0M400.9 649.7h0M398.0 658.3h0M404.0 721.8h0M404.7 729.6h0M413.1 654.5h0M400.0 686.5h0M393.0 690.0h0M398.7 736.8h0M398.3 698.5h0M396.4 660.2h0M396.8 673.9h0M398.0 649.4h0M402.2 669.7h0M404.1 663.5h0M388.1 667.4h0M401.3 661.0h0M398.9 676.9h0M387.6 701.7h0M410.9 669.5h0M394.2 676.6h0M387.8 698.4h0M389.9 722.5h0M396.3 709.3h0M406.7 733.1h0M398.6 650.4h0M399.9 659.5h0M404.7 712.6h0M400.4 654.8h0M402.0 708.2h0M409.8 667.1h0M394.1 707.8h0M390.1 647.7h0M397.9 688.1h0M393.2 700.7h0M397.4 740.8h0M396.7 729.7h0M397.0 729.9h0M390.2 668.2h0M401.6 707.0h0M397.6 719.4h0M393.8 689.4h0M400.3 710.2h0M405.0 708.5h0M411.3 650.6h0M406.4 723.6h0M396.8 674.4h0M398.3 649.7h0M390.1 659.4h0M400.1 672.6h0M392.2 651.7h0M402.2 673.5h0M392.6 651.8h0M401.0 718.0h0M394.8 727.3h0M405.6 726.5h0M399.3 711.8h0M398.3 715.9h0M401.4 659.8h0M395.0 696.9h0M393.1 664.2h0M397.6 726.7h0M402.6 698.0h0M400.7 697.8h0M394.9 720.2h0M404.1 647.9h0M411.7 673.5h0M407.6 666.6h0M402.9 723.8h0M404.5 736.1h0M394.1 675.5h0M397.6 722.1h0M400.2 649.0h0M407.4 673.9h0M400.6 673.8h0M407.3 683.5h0M409.5 649.1h0M397.3 660.8h0M398.2 721.9h0M401.2 724.0h0M385.9 721.4h0M416.3 701.4h0M383.3 722.3h0M398.6 692.6h0M395.9 673.4h0M416.9 649.0h0M408.2 712.6h0M407.5 732.5h0M405.1 735.0h0M403.6 685.2h0M401.3 728.2h0M401.6 685.3h0M393.4 723.3h0M396.0 700.5h0M405.0 676.3h0M414.1 650.5h0M398.8 733.2h0M405.2 647.1h0M389.8 695.9h0M403.2 672.9h0M386.0 672.6h0M406.5 645.4h0M394.9 687.0h0M398.3 726.4h0M395.9 732.7h0M394.4 675.3h0M393.0 736.6h0M396.7 670.1h0M398.6 721.2h0M403.8 700.5h0M393.8 675.3h0M401.0 726.3h0M395.6 733.0h0M405.7 733.5h0M395.9 711.7h0M398.0 697.9h0M396.2 704.3h0M393.7 666.2h0M392.3 672.2h0M398.2 720.9h0M407.9 660.3h0M408.2 690.4h0M400.4 673.9h0M404.7 722.7h0M401.1 710.6h0M399.7 728.8h0M406.9 651.5h0M400.5 712.5h0M401.6 734.3h0M411.8 674.6h0M400.0 675.8h0M401.0 648.6h0M395.0 674.6h0M407.3 663.3h0M403.8 721.0h0M396.6 726.8h0M397.0 725.4h0M399.4 674.8h0M406.9 688.6h0M400.5 736.8h0M388.8 672.2h0M397.0 726.2h0M401.5 724.4h0M387.2 671.1h0M409.8 663.6h0M400.6 734.2h0M394.0 681.8h0M405.3 696.4h0M391.6 687.0h0M402.7 659.9h0M395.6 699.3h0M388.5 711.6h0M392.8 693.4h0M402.5 689.7h0M398.0 705.3h0M395.9 724.3h0M400.5 733.2h0M410.1 737.5h0M400.1 731.4h0M402.8 736.2h0M405.1 659.5h0M403.4 694.8h0M399.1 648.7h0M411.0 654.3h0M395.3 694.4h0M399.4 699.7h0M383.2 721.2h0M373.2 707.9h0M388.6 647.2h0M383.1 723.2h0M381.3 714.5h0M379.0 658.0h0M387.8 681.6h0M379.7 658.4h0M386.1 712.2h0M381.7 697.7h0M365.1 695.4h0M377.0 716.3h0M377.8 670.0h0M357.3 663.4h0M380.1 664.2h0M386.6 659.5h0M371.3 646.2h0M382.1 669.5h0M382.4 688.6h0M372.7 664.8h0M386.8 708.5h0M387.8 661.6h0M385.3 673.8h0M378.2 662.8h0M386.4 708.5h0M381.4 653.5h0M380.6 681.8h0M371.4 688.7h0M369.4 671.7h0M382.2 648.2h0M371.7 731.1h0M373.1 696.9h0M368.8 662.8h0M385.9 658.1h0M363.5 703.6h0M382.7 728.2h0M380.5 719.3h0M372.7 726.0h0M389.0 649.5h0M382.3 649.7h0M366.9 705.1h0M388.4 691.6h0M386.7 653.4h0M363.5 686.7h0M375.5 701.7h0M388.5 696.5h0M384.3 734.7h0M385.2 726.7h0M382.2 681.9h0M388.3 723.5h0M371.0 674.9h0M368.2 647.5h0M384.9 733.8h0M373.2 728.2h0M359.7 707.5h0M388.8 721.1h0M382.1 724.1h0M382.8 709.8h0M383.9 697.6h0M377.5 693.1h0M381.8 686.1h0M386.9 672.5h0M385.2 700.5h0M384.4 671.4h0M371.0 684.1h0M374.6 708.5h0M383.6 701.9h0M383.6 669.3h0M382.6 658.1h0M380.7 689.5h0M366.6 685.9h0M384.0 653.7h0M379.4 698.1h0M373.7 706.7h0M374.8 700.0h0M377.6 659.9h0M381.5 705.0h0M381.1 688.6h0M371.3 721.2h0M388.0 734.0h0M384.2 733.5h0M387.2 652.5h0M371.5 686.9h0M367.8 695.5h0M388.7 703.3h0M376.2 682.5h0M375.8 734.5h0M387.4 673.1h0M384.8 725.8h0M363.3 705.2h0M379.0 709.7h0M353.7 675.5h0M386.3 706.1h0M383.3 735.2h0M386.4 697.6h0M420.8 651.2h0M417.7 649.3h0M420.0 649.0h0M417.4 694.1h0M414.4 657.7h0M414.4 702.0h0M418.8 700.6h0M429.5 687.9h0M418.0 653.1h0M417.9 664.2h0M424.7 709.2h0M414.6 708.0h0M425.6 697.6h0M415.4 650.6h0M421.0 684.8h0M423.5 685.4h0M415.2 662.3h0M417.4 662.4h0M419.3 671.9h0M418.7 675.3h0M418.7 704.2h0M437.0 701.5h0M418.2 696.0h0M425.0 701.3h0M417.5 661.9h0M415.0 650.7h0M414.2 675.5h0M414.1 730.4h0M425.7 647.5h0M421.7 670.8h0M415.7 706.8h0M415.5 660.9h0M417.2 708.0h0M421.2 663.3h0M418.2 650.8h0M425.8 675.0h0M418.6 730.3h0M420.0 662.1h0M419.1 695.3h0M429.4 724.1h0M420.7 723.6h0M422.0 710.1h0M425.2 687.7h0M419.1 647.7h0M418.4 720.4h0M404.5 649.5h0M394.5 647.2h0M386.3 648.7h0M393.2 651.3h0M421.8 651.5h0M410.5 653.2h0M408.3 644.0h0M404.4 646.4h0M396.5 652.0h0M407.0 651.2h0M391.5 642.3h0M422.8 648.6h0M404.8 648.8h0M389.8 650.3h0M417.0 649.0h0M409.8 651.4h0M423.7 654.6h0M410.2 649.0h0M383.1 649.1h0M399.3 646.7h0M405.4 649.4h0M381.4 654.0h0M406.3 646.1h0M416.4 647.2h0M388.7 648.8h0M416.8 644.0h0M392.5 645.3h0M418.9 651.3h0M422.6 649.2h0M398.4 649.3h0M416.7 649.9h0M423.2 645.6h0M411.9 640.6h0M408.3 635.9h0M409.7 632.3h0M427.8 636.3h0M403.1 636.0h0M410.4 637.2h0M414.2 639.5h0M408.7 642.2h0M400.6 642.0h0M409.9 634.2h0M412.1 641.9h0M394.2 637.1h0M403.8 638.9h0M402.7 643.2h0M403.6 638.8h0M405.0 640.9h0M416.6 633.9h0M404.2 638.1h0M407.3 639.2h0M397.5 641.2h0M415.0 635.8h0M408.2 637.8h0M396.9 632.7h0M400.2 643.0h0" stroke="#4c72b0" stroke-width="5.1" stroke-linecap="round" fill="none"/>
<g font-size="11"><text x="124.9" y="837.4" text-anchor="middle">−0.6</text><text x="217.3" y="837.4" text-anchor="middle">−0.4</text><text x="309.8" y="837.4" text-anchor="middle">−0.2</text><text x="402.8" y="837.4" text-anchor="middle">0.0</text><text x="495.2" y="837.4" text-anchor="middle">0.2</text><text x="587.7" y="837.4" text-anchor="middle">0.4</text><text x="680.1" y="837.4" text-anchor="middle">0.6</text><text x="772.5" y="837.4" text-anchor="middle">0.8</text><text x="37.6" y="758.2" text-anchor="end">0</text><text x="37.6" y="636.9" text-anchor="end">5</text><text x="37.6" y="515.5" text-anchor="end">10</text><text x="37.6" y="394.2" text-anchor="end">15</text><text x="37.6" y="272.9" text-anchor="end">20</text><text x="37.6" y="151.5" text-anchor="end">25</text><text x="37.6" y="30.2" text-anchor="end">30</text></g>
<text x="449.3" y="851.5" text-anchor="middle" font-size="12.4">r² score</text>
<text transform="translate(18.8,418.0) rotate(-90)" text-anchor="middle" font-size="12.8">Temperature of regime switch</text>
</svg>
</body></html>
